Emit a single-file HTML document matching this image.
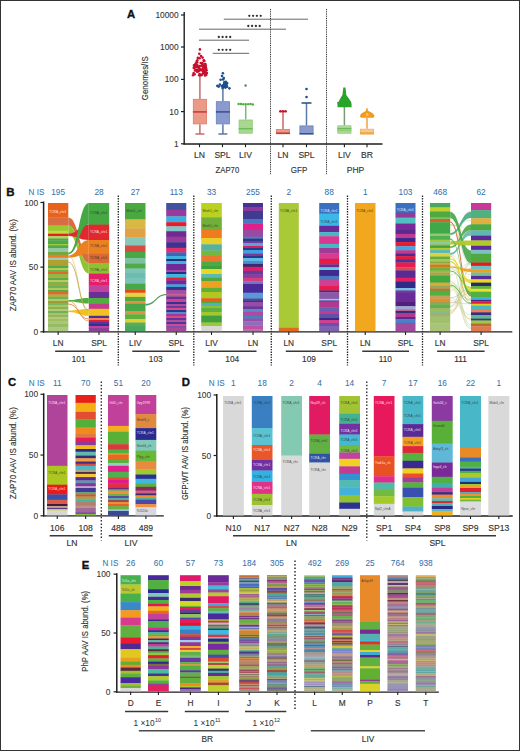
<!DOCTYPE html>
<html><head><meta charset="utf-8"><style>
html,body{margin:0;padding:0;background:#fff;}
svg{display:block;}
text{font-family:"Liberation Sans",sans-serif;}
</style></head><body>
<svg width="520" height="751" viewBox="0 0 520 751">
<rect x="0" y="0" width="520" height="751" fill="#fff"/>
<text x="131.20" y="17.80" font-size="11.3" text-anchor="middle" fill="#111" stroke="#111" stroke-width="0.35" font-weight="bold" >A</text>
<line x1="184.20" y1="12.00" x2="184.20" y2="144.50" stroke="#1e1e1e" stroke-width="1.4" />
<line x1="181.00" y1="15.00" x2="184.20" y2="15.00" stroke="#1e1e1e" stroke-width="1.2" />
<text x="178.60" y="18.00" font-size="8.5" text-anchor="end" fill="#333" stroke="#333" stroke-width="0.1" font-weight="normal" textLength="23.1" lengthAdjust="spacingAndGlyphs" >10000</text>
<line x1="181.00" y1="47.00" x2="184.20" y2="47.00" stroke="#1e1e1e" stroke-width="1.2" />
<text x="178.60" y="50.00" font-size="8.5" text-anchor="end" fill="#333" stroke="#333" stroke-width="0.1" font-weight="normal" textLength="18.48" lengthAdjust="spacingAndGlyphs" >1000</text>
<line x1="181.00" y1="79.40" x2="184.20" y2="79.40" stroke="#1e1e1e" stroke-width="1.2" />
<text x="178.60" y="82.40" font-size="8.5" text-anchor="end" fill="#333" stroke="#333" stroke-width="0.1" font-weight="normal" textLength="13.86" lengthAdjust="spacingAndGlyphs" >100</text>
<line x1="181.00" y1="111.60" x2="184.20" y2="111.60" stroke="#1e1e1e" stroke-width="1.2" />
<text x="178.60" y="114.60" font-size="8.5" text-anchor="end" fill="#333" stroke="#333" stroke-width="0.1" font-weight="normal" textLength="9.24" lengthAdjust="spacingAndGlyphs" >10</text>
<line x1="181.00" y1="143.80" x2="184.20" y2="143.80" stroke="#1e1e1e" stroke-width="1.2" />
<text x="178.60" y="146.80" font-size="8.5" text-anchor="end" fill="#333" stroke="#333" stroke-width="0.1" font-weight="normal" textLength="4.62" lengthAdjust="spacingAndGlyphs" >1</text>
<line x1="183.50" y1="144.00" x2="382.50" y2="144.00" stroke="#1e1e1e" stroke-width="1.5" />
<line x1="199.50" y1="144.00" x2="199.50" y2="147.20" stroke="#1e1e1e" stroke-width="1.1" />
<text x="199.50" y="158.20" font-size="8.6" text-anchor="middle" fill="#333" stroke="#333" stroke-width="0.14" font-weight="normal" >LN</text>
<line x1="222.50" y1="144.00" x2="222.50" y2="147.20" stroke="#1e1e1e" stroke-width="1.1" />
<text x="222.50" y="158.20" font-size="8.6" text-anchor="middle" fill="#333" stroke="#333" stroke-width="0.14" font-weight="normal" >SPL</text>
<line x1="245.50" y1="144.00" x2="245.50" y2="147.20" stroke="#1e1e1e" stroke-width="1.1" />
<text x="245.50" y="158.20" font-size="8.6" text-anchor="middle" fill="#333" stroke="#333" stroke-width="0.14" font-weight="normal" >LIV</text>
<line x1="283.00" y1="144.00" x2="283.00" y2="147.20" stroke="#1e1e1e" stroke-width="1.1" />
<text x="283.00" y="158.20" font-size="8.6" text-anchor="middle" fill="#333" stroke="#333" stroke-width="0.14" font-weight="normal" >LN</text>
<line x1="306.50" y1="144.00" x2="306.50" y2="147.20" stroke="#1e1e1e" stroke-width="1.1" />
<text x="306.50" y="158.20" font-size="8.6" text-anchor="middle" fill="#333" stroke="#333" stroke-width="0.14" font-weight="normal" >SPL</text>
<line x1="344.40" y1="144.00" x2="344.40" y2="147.20" stroke="#1e1e1e" stroke-width="1.1" />
<text x="344.40" y="158.20" font-size="8.6" text-anchor="middle" fill="#333" stroke="#333" stroke-width="0.14" font-weight="normal" >LIV</text>
<line x1="367.00" y1="144.00" x2="367.00" y2="147.20" stroke="#1e1e1e" stroke-width="1.1" />
<text x="367.00" y="158.20" font-size="8.6" text-anchor="middle" fill="#333" stroke="#333" stroke-width="0.14" font-weight="normal" >BR</text>
<text x="227.40" y="172.60" font-size="9.6" text-anchor="middle" fill="#333" stroke="#333" stroke-width="0.14" font-weight="normal" textLength="23.6" lengthAdjust="spacingAndGlyphs" >ZAP70</text>
<text x="299.00" y="172.60" font-size="9.6" text-anchor="middle" fill="#333" stroke="#333" stroke-width="0.14" font-weight="normal" textLength="16.5" lengthAdjust="spacingAndGlyphs" >GFP</text>
<text x="355.50" y="172.60" font-size="9.6" text-anchor="middle" fill="#333" stroke="#333" stroke-width="0.14" font-weight="normal" textLength="17.5" lengthAdjust="spacingAndGlyphs" >PHP</text>
<line x1="270.50" y1="9.00" x2="270.50" y2="174.80" stroke="#333" stroke-width="1.0" stroke-dasharray="1.0,0.8" />
<line x1="326.50" y1="9.00" x2="326.50" y2="174.80" stroke="#333" stroke-width="1.0" stroke-dasharray="1.0,0.8" />
<text x="147.60" y="78.20" font-size="9.2" text-anchor="middle" fill="#333" stroke="#333" stroke-width="0.14" font-weight="normal" textLength="44" lengthAdjust="spacingAndGlyphs" transform="rotate(-90 147.6 78.2)">Genomes/IS</text>
<line x1="223.80" y1="19.20" x2="308.00" y2="19.20" stroke="#4a4a4a" stroke-width="0.85" />
<circle cx="249.30" cy="15.80" r="1.15" fill="#333"/>
<circle cx="253.10" cy="15.80" r="1.15" fill="#333"/>
<circle cx="256.90" cy="15.80" r="1.15" fill="#333"/>
<circle cx="260.70" cy="15.80" r="1.15" fill="#333"/>
<line x1="199.00" y1="29.20" x2="286.00" y2="29.20" stroke="#4a4a4a" stroke-width="0.85" />
<circle cx="248.30" cy="26.00" r="1.15" fill="#333"/>
<circle cx="252.10" cy="26.00" r="1.15" fill="#333"/>
<circle cx="255.90" cy="26.00" r="1.15" fill="#333"/>
<circle cx="259.70" cy="26.00" r="1.15" fill="#333"/>
<line x1="199.00" y1="40.20" x2="249.00" y2="40.20" stroke="#4a4a4a" stroke-width="0.85" />
<circle cx="218.80" cy="37.00" r="1.15" fill="#333"/>
<circle cx="222.60" cy="37.00" r="1.15" fill="#333"/>
<circle cx="226.40" cy="37.00" r="1.15" fill="#333"/>
<circle cx="230.20" cy="37.00" r="1.15" fill="#333"/>
<line x1="212.70" y1="53.30" x2="249.20" y2="53.30" stroke="#4a4a4a" stroke-width="0.85" />
<circle cx="218.80" cy="49.80" r="1.15" fill="#333"/>
<circle cx="222.60" cy="49.80" r="1.15" fill="#333"/>
<circle cx="226.40" cy="49.80" r="1.15" fill="#333"/>
<circle cx="230.20" cy="49.80" r="1.15" fill="#333"/>
<line x1="199.90" y1="75.00" x2="199.90" y2="98.90" stroke="#c86a6a" stroke-width="1.5" />
<line x1="199.90" y1="124.30" x2="199.90" y2="134.00" stroke="#c86a6a" stroke-width="1.5" />
<line x1="195.40" y1="134.00" x2="204.40" y2="134.00" stroke="#c86a6a" stroke-width="1.5" />
<rect x="193.30" y="99.30" width="13.20" height="24.60" fill="#eb9a88" stroke="#df7a6a" stroke-width="0.8"/>
<line x1="192.90" y1="111.90" x2="206.90" y2="111.90" stroke="#c23a3a" stroke-width="1.5" />
<circle cx="199.9" cy="49.4" r="1.3" fill="#c8102e"/>
<circle cx="199.3" cy="53.7" r="1.3" fill="#c8102e"/>
<circle cx="201" cy="56" r="1.3" fill="#c8102e"/>
<circle cx="202.63" cy="63.60" r="1.3" fill="#c8102e"/>
<circle cx="205.26" cy="64.74" r="1.3" fill="#c8102e"/>
<circle cx="204.91" cy="64.38" r="1.3" fill="#c8102e"/>
<circle cx="199.64" cy="58.21" r="1.3" fill="#c8102e"/>
<circle cx="201.80" cy="65.66" r="1.3" fill="#c8102e"/>
<circle cx="195.04" cy="65.40" r="1.3" fill="#c8102e"/>
<circle cx="197.23" cy="62.50" r="1.3" fill="#c8102e"/>
<circle cx="200.71" cy="63.05" r="1.3" fill="#c8102e"/>
<circle cx="197.84" cy="57.91" r="1.3" fill="#c8102e"/>
<circle cx="203.84" cy="60.98" r="1.3" fill="#c8102e"/>
<circle cx="195.82" cy="64.55" r="1.3" fill="#c8102e"/>
<circle cx="195.52" cy="64.75" r="1.3" fill="#c8102e"/>
<circle cx="195.69" cy="63.57" r="1.3" fill="#c8102e"/>
<circle cx="202.53" cy="57.60" r="1.3" fill="#c8102e"/>
<circle cx="197.34" cy="60.35" r="1.3" fill="#c8102e"/>
<circle cx="204.71" cy="65.90" r="1.3" fill="#c8102e"/>
<circle cx="204.29" cy="61.07" r="1.3" fill="#c8102e"/>
<circle cx="201.84" cy="63.02" r="1.3" fill="#c8102e"/>
<circle cx="203.86" cy="60.30" r="1.3" fill="#c8102e"/>
<circle cx="205.33" cy="64.06" r="1.3" fill="#c8102e"/>
<circle cx="197.38" cy="65.36" r="1.3" fill="#c8102e"/>
<circle cx="196.58" cy="61.67" r="1.3" fill="#c8102e"/>
<circle cx="194.09" cy="67.70" r="1.3" fill="#c8102e"/>
<circle cx="201.30" cy="69.49" r="1.3" fill="#c8102e"/>
<circle cx="202.22" cy="65.19" r="1.3" fill="#c8102e"/>
<circle cx="197.30" cy="69.87" r="1.3" fill="#c8102e"/>
<circle cx="199.63" cy="74.04" r="1.3" fill="#c8102e"/>
<circle cx="199.64" cy="69.64" r="1.3" fill="#c8102e"/>
<circle cx="193.66" cy="73.14" r="1.3" fill="#c8102e"/>
<circle cx="193.04" cy="75.22" r="1.3" fill="#c8102e"/>
<circle cx="204.78" cy="73.50" r="1.3" fill="#c8102e"/>
<circle cx="203.66" cy="65.63" r="1.3" fill="#c8102e"/>
<circle cx="200.98" cy="70.15" r="1.3" fill="#c8102e"/>
<circle cx="193.98" cy="65.39" r="1.3" fill="#c8102e"/>
<circle cx="206.01" cy="68.14" r="1.3" fill="#c8102e"/>
<circle cx="203.34" cy="68.33" r="1.3" fill="#c8102e"/>
<circle cx="206.23" cy="74.88" r="1.3" fill="#c8102e"/>
<circle cx="197.92" cy="69.93" r="1.3" fill="#c8102e"/>
<circle cx="203.73" cy="71.62" r="1.3" fill="#c8102e"/>
<circle cx="203.20" cy="67.19" r="1.3" fill="#c8102e"/>
<circle cx="205.01" cy="73.87" r="1.3" fill="#c8102e"/>
<circle cx="205.76" cy="66.03" r="1.3" fill="#c8102e"/>
<circle cx="197.79" cy="66.95" r="1.3" fill="#c8102e"/>
<circle cx="205.75" cy="72.37" r="1.3" fill="#c8102e"/>
<circle cx="205.69" cy="69.89" r="1.3" fill="#c8102e"/>
<circle cx="197.29" cy="71.80" r="1.3" fill="#c8102e"/>
<circle cx="195.51" cy="69.65" r="1.3" fill="#c8102e"/>
<circle cx="195.25" cy="66.75" r="1.3" fill="#c8102e"/>
<circle cx="206.89" cy="73.01" r="1.3" fill="#c8102e"/>
<circle cx="193.85" cy="67.90" r="1.3" fill="#c8102e"/>
<circle cx="200.38" cy="75.30" r="1.3" fill="#c8102e"/>
<circle cx="196.29" cy="70.53" r="1.3" fill="#c8102e"/>
<circle cx="204.46" cy="72.22" r="1.3" fill="#c8102e"/>
<circle cx="198.82" cy="71.00" r="1.3" fill="#c8102e"/>
<circle cx="205.39" cy="66.38" r="1.3" fill="#c8102e"/>
<circle cx="199.82" cy="65.95" r="1.3" fill="#c8102e"/>
<circle cx="194.64" cy="74.19" r="1.3" fill="#c8102e"/>
<circle cx="206.25" cy="73.36" r="1.3" fill="#c8102e"/>
<circle cx="203.94" cy="72.53" r="1.3" fill="#c8102e"/>
<circle cx="199.03" cy="67.17" r="1.3" fill="#c8102e"/>
<circle cx="204.51" cy="67.75" r="1.3" fill="#c8102e"/>
<circle cx="199.26" cy="69.42" r="1.3" fill="#c8102e"/>
<circle cx="204.97" cy="75.39" r="1.3" fill="#c8102e"/>
<circle cx="199.23" cy="75.22" r="1.3" fill="#c8102e"/>
<circle cx="203.08" cy="71.30" r="1.3" fill="#c8102e"/>
<circle cx="197.01" cy="71.21" r="1.3" fill="#c8102e"/>
<circle cx="195.04" cy="70.51" r="1.3" fill="#c8102e"/>
<circle cx="206.59" cy="70.25" r="1.3" fill="#c8102e"/>
<circle cx="201.72" cy="75.11" r="1.3" fill="#c8102e"/>
<circle cx="197.66" cy="71.40" r="1.3" fill="#c8102e"/>
<circle cx="196.88" cy="66.91" r="1.3" fill="#c8102e"/>
<circle cx="205.11" cy="73.76" r="1.3" fill="#c8102e"/>
<circle cx="203.81" cy="70.10" r="1.3" fill="#c8102e"/>
<circle cx="202.66" cy="73.70" r="1.3" fill="#c8102e"/>
<circle cx="203.55" cy="72.81" r="1.3" fill="#c8102e"/>
<circle cx="202.70" cy="70.12" r="1.3" fill="#c8102e"/>
<circle cx="199.71" cy="69.28" r="1.3" fill="#c8102e"/>
<line x1="222.90" y1="88.00" x2="222.90" y2="101.30" stroke="#5a78a8" stroke-width="1.5" />
<line x1="222.90" y1="124.30" x2="222.90" y2="134.00" stroke="#5a78a8" stroke-width="1.5" />
<line x1="218.40" y1="134.00" x2="227.40" y2="134.00" stroke="#5a78a8" stroke-width="1.5" />
<rect x="216.30" y="101.70" width="13.20" height="22.20" fill="#8a9ace" stroke="#6a80bc" stroke-width="0.8"/>
<line x1="215.90" y1="111.90" x2="229.90" y2="111.90" stroke="#34508c" stroke-width="1.5" />
<circle cx="222.9" cy="73.2" r="1.3" fill="#1d4f8c"/>
<circle cx="222" cy="76" r="1.3" fill="#1d4f8c"/>
<circle cx="223.8" cy="78" r="1.3" fill="#1d4f8c"/>
<circle cx="225.38" cy="86.91" r="1.3" fill="#1d4f8c"/>
<circle cx="227.16" cy="83.03" r="1.3" fill="#1d4f8c"/>
<circle cx="223.88" cy="86.02" r="1.3" fill="#1d4f8c"/>
<circle cx="223.20" cy="79.42" r="1.3" fill="#1d4f8c"/>
<circle cx="224.48" cy="82.61" r="1.3" fill="#1d4f8c"/>
<circle cx="226.35" cy="84.54" r="1.3" fill="#1d4f8c"/>
<circle cx="226.53" cy="86.01" r="1.3" fill="#1d4f8c"/>
<circle cx="224.34" cy="83.54" r="1.3" fill="#1d4f8c"/>
<circle cx="227.10" cy="86.68" r="1.3" fill="#1d4f8c"/>
<circle cx="226.34" cy="83.56" r="1.3" fill="#1d4f8c"/>
<circle cx="225.47" cy="87.62" r="1.3" fill="#1d4f8c"/>
<circle cx="229.41" cy="88.34" r="1.3" fill="#1d4f8c"/>
<circle cx="223.23" cy="85.00" r="1.3" fill="#1d4f8c"/>
<circle cx="225.72" cy="81.70" r="1.3" fill="#1d4f8c"/>
<circle cx="222.58" cy="88.08" r="1.3" fill="#1d4f8c"/>
<circle cx="225.64" cy="86.34" r="1.3" fill="#1d4f8c"/>
<circle cx="218.72" cy="86.62" r="1.3" fill="#1d4f8c"/>
<circle cx="223.96" cy="86.99" r="1.3" fill="#1d4f8c"/>
<circle cx="221.92" cy="86.14" r="1.3" fill="#1d4f8c"/>
<circle cx="226.21" cy="85.83" r="1.3" fill="#1d4f8c"/>
<circle cx="225.57" cy="85.93" r="1.3" fill="#1d4f8c"/>
<circle cx="220.63" cy="79.77" r="1.3" fill="#1d4f8c"/>
<circle cx="224.51" cy="84.36" r="1.3" fill="#1d4f8c"/>
<circle cx="224.56" cy="82.28" r="1.3" fill="#1d4f8c"/>
<circle cx="217.36" cy="85.88" r="1.3" fill="#1d4f8c"/>
<circle cx="219.90" cy="84.61" r="1.3" fill="#1d4f8c"/>
<line x1="245.70" y1="104.60" x2="245.70" y2="119.60" stroke="#7ab86a" stroke-width="1.5" />
<rect x="239.10" y="120.00" width="13.20" height="13.20" fill="#a8d890" stroke="#90c878" stroke-width="0.8"/>
<line x1="238.70" y1="128.70" x2="252.70" y2="128.70" stroke="#6cbc5c" stroke-width="1.5" />
<circle cx="238.60" cy="103.96" r="1.2" fill="#4cae3a"/>
<circle cx="241.00" cy="104.06" r="1.2" fill="#4cae3a"/>
<circle cx="243.40" cy="104.28" r="1.2" fill="#4cae3a"/>
<circle cx="245.80" cy="104.12" r="1.2" fill="#4cae3a"/>
<circle cx="248.20" cy="104.13" r="1.2" fill="#4cae3a"/>
<circle cx="250.60" cy="103.94" r="1.2" fill="#4cae3a"/>
<circle cx="252.80" cy="104.46" r="1.2" fill="#4cae3a"/>
<circle cx="245.6" cy="85.5" r="1.2" fill="#4a8a5a"/>
<line x1="283.00" y1="111.50" x2="283.00" y2="129.00" stroke="#c86a6a" stroke-width="1.5" />
<rect x="276.40" y="129.40" width="13.20" height="4.40" fill="#eb9a88" stroke="#df7a6a" stroke-width="0.8"/>
<line x1="276.00" y1="133.20" x2="290.00" y2="133.20" stroke="#c23a3a" stroke-width="1.5" />
<line x1="279.00" y1="111.50" x2="287.00" y2="111.50" stroke="#c8343b" stroke-width="1.5" />
<circle cx="280.5" cy="111.2" r="1.2" fill="#c8102e"/>
<circle cx="283" cy="111.2" r="1.2" fill="#c8102e"/>
<circle cx="285.5" cy="111.2" r="1.2" fill="#c8102e"/>
<line x1="306.50" y1="103.00" x2="306.50" y2="125.50" stroke="#5a78a8" stroke-width="1.5" />
<rect x="299.90" y="125.90" width="13.20" height="7.90" fill="#8a9ace" stroke="#6a80bc" stroke-width="0.8"/>
<line x1="299.50" y1="133.80" x2="313.50" y2="133.80" stroke="#34508c" stroke-width="1.5" />
<line x1="301.50" y1="103.00" x2="311.50" y2="103.00" stroke="#1f4f8a" stroke-width="1.5" />
<circle cx="306.5" cy="97" r="1.3" fill="#1d4f8c"/>
<circle cx="306.5" cy="89" r="1.3" fill="#1d4f8c"/>
<line x1="344.40" y1="106.70" x2="344.40" y2="125.40" stroke="#7a9a7a" stroke-width="1.5" />
<rect x="337.80" y="125.80" width="13.20" height="7.50" fill="#b0dc98" stroke="#98cc80" stroke-width="0.8"/>
<line x1="337.40" y1="128.60" x2="351.40" y2="128.60" stroke="#6cbc5c" stroke-width="1.5" />
<line x1="337.40" y1="130.80" x2="351.40" y2="130.80" stroke="#8ac870" stroke-width="1.0" />
<path d="M343.3,87.6 L345.5,87.6 L345.9,91 L346.3,95 L348.2,97.5 L350,100.2 L351.2,102 L351.6,104.5 L351.6,107.3 L337.6,107.3 L337.4,103.8 L337,102.3 L338.6,101.8 L340.5,98 L342.4,95 L342.9,91 Z" fill="#2ba32b" stroke="none" stroke-width="1" />
<line x1="367.00" y1="118.00" x2="367.00" y2="128.80" stroke="#f0a040" stroke-width="1.5" />
<rect x="360.40" y="129.20" width="13.20" height="5.00" fill="#f7c98e" stroke="#f2b060" stroke-width="0.8"/>
<line x1="360.00" y1="133.00" x2="374.00" y2="133.00" stroke="#f0a040" stroke-width="1.5" />
<path d="M366.3,108.2 L367.6,108.2 L368,110.8 L370.5,112 L373,113.5 L374.6,116 L373.5,117.8 L361,117.8 L359.8,116 L361.3,113.5 L364,112 L366,110.8 Z" fill="#f29a1c" stroke="none" stroke-width="1" />
<circle cx="367.2" cy="114.6" r="1.5" fill="#f8c070"/>
<text x="10.50" y="195.80" font-size="11.5" text-anchor="middle" fill="#111" stroke="#111" stroke-width="0.35" font-weight="bold" >B</text>
<text x="28.60" y="195.00" font-size="8.3" text-anchor="start" fill="#3172ac" stroke="#3172ac" stroke-width="0.04" font-weight="normal" textLength="15.8" lengthAdjust="spacingAndGlyphs" >N IS</text>
<line x1="43.60" y1="201.50" x2="43.60" y2="332.60" stroke="#1e1e1e" stroke-width="1.5" />
<line x1="40.40" y1="331.80" x2="43.60" y2="331.80" stroke="#1e1e1e" stroke-width="1.2" />
<text x="38.20" y="334.80" font-size="8.4" text-anchor="end" fill="#333" stroke="#333" stroke-width="0.08" font-weight="normal" >0</text>
<line x1="40.40" y1="267.15" x2="43.60" y2="267.15" stroke="#1e1e1e" stroke-width="1.2" />
<text x="38.20" y="270.15" font-size="8.4" text-anchor="end" fill="#333" stroke="#333" stroke-width="0.08" font-weight="normal" >50</text>
<line x1="40.40" y1="202.50" x2="43.60" y2="202.50" stroke="#1e1e1e" stroke-width="1.2" />
<text x="38.20" y="205.50" font-size="8.4" text-anchor="end" fill="#333" stroke="#333" stroke-width="0.08" font-weight="normal" >100</text>
<text x="15.60" y="265.20" font-size="8.6" text-anchor="middle" fill="#333" stroke="#333" stroke-width="0.14" font-weight="normal" textLength="92" lengthAdjust="spacingAndGlyphs" transform="rotate(-90 15.6 265.2)">ZAP70 AAV IS abund. (%)</text>
<line x1="43.00" y1="331.90" x2="512.30" y2="331.90" stroke="#1e1e1e" stroke-width="1.3" />
<line x1="58.15" y1="331.80" x2="58.15" y2="335.00" stroke="#1e1e1e" stroke-width="1.1" />
<text x="58.15" y="346.00" font-size="8.3" text-anchor="middle" fill="#333" stroke="#333" stroke-width="0.14" font-weight="normal" >LN</text>
<text x="58.15" y="195.00" font-size="8.3" text-anchor="middle" fill="#3172ac" stroke="#3172ac" stroke-width="0.04" font-weight="normal" >195</text>
<line x1="99.00" y1="331.80" x2="99.00" y2="335.00" stroke="#1e1e1e" stroke-width="1.1" />
<text x="99.00" y="346.00" font-size="8.3" text-anchor="middle" fill="#333" stroke="#333" stroke-width="0.14" font-weight="normal" >SPL</text>
<text x="99.00" y="195.00" font-size="8.3" text-anchor="middle" fill="#3172ac" stroke="#3172ac" stroke-width="0.04" font-weight="normal" >28</text>
<line x1="135.25" y1="331.80" x2="135.25" y2="335.00" stroke="#1e1e1e" stroke-width="1.1" />
<text x="135.25" y="346.00" font-size="8.3" text-anchor="middle" fill="#333" stroke="#333" stroke-width="0.14" font-weight="normal" >LIV</text>
<text x="135.25" y="195.00" font-size="8.3" text-anchor="middle" fill="#3172ac" stroke="#3172ac" stroke-width="0.04" font-weight="normal" >27</text>
<line x1="176.25" y1="331.80" x2="176.25" y2="335.00" stroke="#1e1e1e" stroke-width="1.1" />
<text x="176.25" y="346.00" font-size="8.3" text-anchor="middle" fill="#333" stroke="#333" stroke-width="0.14" font-weight="normal" >SPL</text>
<text x="176.25" y="195.00" font-size="8.3" text-anchor="middle" fill="#3172ac" stroke="#3172ac" stroke-width="0.04" font-weight="normal" >113</text>
<line x1="211.50" y1="331.80" x2="211.50" y2="335.00" stroke="#1e1e1e" stroke-width="1.1" />
<text x="211.50" y="346.00" font-size="8.3" text-anchor="middle" fill="#333" stroke="#333" stroke-width="0.14" font-weight="normal" >LIV</text>
<text x="211.50" y="195.00" font-size="8.3" text-anchor="middle" fill="#3172ac" stroke="#3172ac" stroke-width="0.04" font-weight="normal" >33</text>
<line x1="253.00" y1="331.80" x2="253.00" y2="335.00" stroke="#1e1e1e" stroke-width="1.1" />
<text x="253.00" y="346.00" font-size="8.3" text-anchor="middle" fill="#333" stroke="#333" stroke-width="0.14" font-weight="normal" >LN</text>
<text x="253.00" y="195.00" font-size="8.3" text-anchor="middle" fill="#3172ac" stroke="#3172ac" stroke-width="0.04" font-weight="normal" >255</text>
<line x1="288.80" y1="331.80" x2="288.80" y2="335.00" stroke="#1e1e1e" stroke-width="1.1" />
<text x="288.80" y="346.00" font-size="8.3" text-anchor="middle" fill="#333" stroke="#333" stroke-width="0.14" font-weight="normal" >LN</text>
<text x="288.80" y="195.00" font-size="8.3" text-anchor="middle" fill="#3172ac" stroke="#3172ac" stroke-width="0.04" font-weight="normal" >2</text>
<line x1="329.20" y1="331.80" x2="329.20" y2="335.00" stroke="#1e1e1e" stroke-width="1.1" />
<text x="329.20" y="346.00" font-size="8.3" text-anchor="middle" fill="#333" stroke="#333" stroke-width="0.14" font-weight="normal" >SPL</text>
<text x="329.20" y="195.00" font-size="8.3" text-anchor="middle" fill="#3172ac" stroke="#3172ac" stroke-width="0.04" font-weight="normal" >88</text>
<line x1="365.25" y1="331.80" x2="365.25" y2="335.00" stroke="#1e1e1e" stroke-width="1.1" />
<text x="365.25" y="346.00" font-size="8.3" text-anchor="middle" fill="#333" stroke="#333" stroke-width="0.14" font-weight="normal" >LN</text>
<text x="365.25" y="195.00" font-size="8.3" text-anchor="middle" fill="#3172ac" stroke="#3172ac" stroke-width="0.04" font-weight="normal" >1</text>
<line x1="405.50" y1="331.80" x2="405.50" y2="335.00" stroke="#1e1e1e" stroke-width="1.1" />
<text x="405.50" y="346.00" font-size="8.3" text-anchor="middle" fill="#333" stroke="#333" stroke-width="0.14" font-weight="normal" >SPL</text>
<text x="405.50" y="195.00" font-size="8.3" text-anchor="middle" fill="#3172ac" stroke="#3172ac" stroke-width="0.04" font-weight="normal" >103</text>
<line x1="440.10" y1="331.80" x2="440.10" y2="335.00" stroke="#1e1e1e" stroke-width="1.1" />
<text x="440.10" y="346.00" font-size="8.3" text-anchor="middle" fill="#333" stroke="#333" stroke-width="0.14" font-weight="normal" >LN</text>
<text x="440.10" y="195.00" font-size="8.3" text-anchor="middle" fill="#3172ac" stroke="#3172ac" stroke-width="0.04" font-weight="normal" >468</text>
<line x1="481.10" y1="331.80" x2="481.10" y2="335.00" stroke="#1e1e1e" stroke-width="1.1" />
<text x="481.10" y="346.00" font-size="8.3" text-anchor="middle" fill="#333" stroke="#333" stroke-width="0.14" font-weight="normal" >SPL</text>
<text x="481.10" y="195.00" font-size="8.3" text-anchor="middle" fill="#3172ac" stroke="#3172ac" stroke-width="0.04" font-weight="normal" >62</text>
<line x1="118.30" y1="195.50" x2="118.30" y2="365.50" stroke="#222" stroke-width="1.3" stroke-dasharray="1.4,1.2" />
<line x1="193.80" y1="195.50" x2="193.80" y2="365.50" stroke="#222" stroke-width="1.3" stroke-dasharray="1.4,1.2" />
<line x1="271.30" y1="195.50" x2="271.30" y2="365.50" stroke="#222" stroke-width="1.3" stroke-dasharray="1.4,1.2" />
<line x1="347.50" y1="195.50" x2="347.50" y2="365.50" stroke="#222" stroke-width="1.3" stroke-dasharray="1.4,1.2" />
<line x1="422.50" y1="195.50" x2="422.50" y2="365.50" stroke="#222" stroke-width="1.3" stroke-dasharray="1.4,1.2" />
<line x1="55.15" y1="351.30" x2="102.50" y2="351.30" stroke="#383838" stroke-width="1.4" />
<text x="78.58" y="361.60" font-size="8.3" text-anchor="middle" fill="#333" stroke="#333" stroke-width="0.14" font-weight="normal" >101</text>
<line x1="132.25" y1="351.30" x2="179.75" y2="351.30" stroke="#383838" stroke-width="1.4" />
<text x="155.75" y="361.60" font-size="8.3" text-anchor="middle" fill="#333" stroke="#333" stroke-width="0.14" font-weight="normal" >103</text>
<line x1="208.50" y1="351.30" x2="256.50" y2="351.30" stroke="#383838" stroke-width="1.4" />
<text x="232.25" y="361.60" font-size="8.3" text-anchor="middle" fill="#333" stroke="#333" stroke-width="0.14" font-weight="normal" >104</text>
<line x1="285.80" y1="351.30" x2="332.70" y2="351.30" stroke="#383838" stroke-width="1.4" />
<text x="309.00" y="361.60" font-size="8.3" text-anchor="middle" fill="#333" stroke="#333" stroke-width="0.14" font-weight="normal" >109</text>
<line x1="362.25" y1="351.30" x2="409.00" y2="351.30" stroke="#383838" stroke-width="1.4" />
<text x="385.38" y="361.60" font-size="8.3" text-anchor="middle" fill="#333" stroke="#333" stroke-width="0.14" font-weight="normal" >110</text>
<line x1="437.10" y1="351.30" x2="484.60" y2="351.30" stroke="#383838" stroke-width="1.4" />
<text x="460.60" y="361.60" font-size="8.3" text-anchor="middle" fill="#333" stroke="#333" stroke-width="0.14" font-weight="normal" >111</text>
<rect x="48.00" y="203.00" width="20.30" height="14.65" fill="#e8621c" />
<rect x="48.00" y="217.30" width="20.30" height="8.55" fill="#d86c42" />
<rect x="48.00" y="225.50" width="20.30" height="5.65" fill="#9cc832" />
<rect x="48.00" y="230.80" width="20.30" height="3.25" fill="#c8d844" />
<rect x="48.00" y="233.70" width="20.30" height="2.65" fill="#e02222" />
<rect x="48.00" y="236.00" width="20.30" height="2.85" fill="#b4d062" />
<rect x="48.00" y="238.50" width="20.30" height="2.25" fill="#52a842" />
<rect x="48.00" y="240.40" width="20.30" height="3.95" fill="#4aa84a" />
<rect x="48.00" y="244.00" width="20.30" height="1.55" fill="#a2c842" />
<rect x="48.00" y="245.20" width="20.30" height="3.15" fill="#52a84a" />
<rect x="48.00" y="248.00" width="20.30" height="4.35" fill="#92c8a2" />
<rect x="48.00" y="252.00" width="20.30" height="3.15" fill="#72a842" />
<rect x="48.00" y="254.80" width="20.30" height="3.25" fill="#e88022" />
<rect x="48.00" y="257.70" width="20.30" height="2.65" fill="#a2c8c0" />
<rect x="48.00" y="260.00" width="20.30" height="5.75" fill="#b0a032" />
<rect x="48.00" y="265.40" width="20.30" height="2.95" fill="#52a852" />
<rect x="48.00" y="268.00" width="20.30" height="2.35" fill="#b7cc4c" />
<rect x="48.00" y="270.00" width="20.30" height="2.35" fill="#6cb24e" />
<rect x="48.00" y="272.00" width="20.30" height="2.35" fill="#e06a2a" />
<rect x="48.00" y="274.00" width="20.30" height="2.35" fill="#8ab84a" />
<rect x="48.00" y="276.00" width="20.30" height="2.35" fill="#a7b044" />
<rect x="48.00" y="278.00" width="20.30" height="2.35" fill="#5aab4c" />
<rect x="48.00" y="280.00" width="20.30" height="2.35" fill="#b9c95a" />
<rect x="48.00" y="282.00" width="20.30" height="2.35" fill="#78b452" />
<rect x="48.00" y="284.00" width="20.30" height="2.35" fill="#9fa73a" />
<rect x="48.00" y="286.00" width="20.30" height="2.35" fill="#6cb25a" />
<rect x="48.00" y="288.00" width="20.30" height="2.35" fill="#b0c85e" />
<rect x="48.00" y="290.00" width="20.30" height="2.35" fill="#5aa848" />
<rect x="48.00" y="292.00" width="20.30" height="2.85" fill="#e06a2a" />
<rect x="48.00" y="294.50" width="20.30" height="2.85" fill="#a5b24a" />
<rect x="48.00" y="297.00" width="20.30" height="2.35" fill="#6eb456" />
<rect x="48.00" y="299.00" width="20.30" height="2.35" fill="#b4c866" />
<rect x="48.00" y="301.00" width="20.30" height="2.35" fill="#a09a3a" />
<rect x="48.00" y="303.00" width="20.30" height="2.35" fill="#7ab85a" />
<rect x="48.00" y="305.00" width="20.30" height="2.35" fill="#a8c46a" />
<rect x="48.00" y="307.00" width="20.30" height="2.35" fill="#8ab44a" />
<rect x="48.00" y="309.00" width="20.30" height="2.35" fill="#b6c878" />
<rect x="48.00" y="311.00" width="20.30" height="2.35" fill="#6eb25a" />
<rect x="48.00" y="313.00" width="20.30" height="2.35" fill="#a8c070" />
<rect x="48.00" y="315.00" width="20.30" height="2.35" fill="#90b858" />
<rect x="48.00" y="317.00" width="20.30" height="2.35" fill="#b4c87a" />
<rect x="48.00" y="319.00" width="20.30" height="2.35" fill="#a0c060" />
<rect x="48.00" y="321.00" width="20.30" height="3.35" fill="#a9c77c" />
<rect x="48.00" y="324.00" width="20.30" height="3.35" fill="#98bc66" />
<rect x="48.00" y="327.00" width="20.30" height="4.15" fill="#aac87e" />
<rect x="88.80" y="203.00" width="20.40" height="21.95" fill="#45a843" />
<rect x="88.80" y="224.60" width="20.40" height="15.75" fill="#e1282f" />
<rect x="88.80" y="240.00" width="20.40" height="14.15" fill="#ec8120" />
<rect x="88.80" y="253.80" width="20.40" height="9.55" fill="#d96a33" />
<rect x="88.80" y="263.00" width="20.40" height="10.85" fill="#8fc130" />
<rect x="88.80" y="273.50" width="20.40" height="11.85" fill="#e21f68" />
<rect x="88.80" y="285.00" width="20.40" height="7.35" fill="#c0439e" />
<rect x="88.80" y="292.00" width="20.40" height="6.35" fill="#6a3098" />
<rect x="88.80" y="298.00" width="20.40" height="5.85" fill="#4fb040" />
<rect x="88.80" y="303.50" width="20.40" height="5.65" fill="#c63a8e" />
<rect x="88.80" y="308.80" width="20.40" height="7.35" fill="#f0c21f" />
<rect x="88.80" y="315.80" width="20.40" height="2.55" fill="#4e2f8e" />
<rect x="88.80" y="318.00" width="20.40" height="2.35" fill="#ef8060" />
<rect x="88.80" y="320.00" width="20.40" height="2.35" fill="#e02030" />
<rect x="88.80" y="322.00" width="20.40" height="2.35" fill="#6030a0" />
<rect x="88.80" y="324.00" width="20.40" height="2.35" fill="#2e3288" />
<rect x="88.80" y="326.00" width="20.40" height="2.35" fill="#c040a0" />
<rect x="88.80" y="328.00" width="20.40" height="3.15" fill="#8e3f9a" />
<path d="M68.3,217.5 C78.55,217.5 78.55,253.8 88.8,253.8 L88.8,263 C78.55,263 78.55,225.5 68.3,225.5 Z" fill="#d96c40" stroke="none" stroke-width="1" fill-opacity="1.0"/>
<path d="M68.3,225.5 C78.55,225.5 78.55,263 88.8,263 L88.8,273.5 C78.55,273.5 78.55,233.7 68.3,233.7 Z" fill="#92c430" stroke="none" stroke-width="1" fill-opacity="1.0"/>
<path d="M68.3,233.7 C78.55,233.7 78.55,224.6 88.8,224.6 L88.8,240 C78.55,240 78.55,236 68.3,236 Z" fill="#e1282f" stroke="none" stroke-width="1" fill-opacity="1.0"/>
<path d="M68.3,252.8 C78.55,252.8 78.55,203 88.8,203 L88.8,224.6 C78.55,224.6 78.55,254.5 68.3,254.5 Z" fill="#45a843" stroke="none" stroke-width="1" fill-opacity="1.0"/>
<path d="M68.3,255.5 C78.55,255.5 78.55,240 88.8,240 L88.8,253.8 C78.55,253.8 78.55,257.7 68.3,257.7 Z" fill="#ec8120" stroke="none" stroke-width="1" fill-opacity="1.0"/>
<path d="M68.3,300 C78.55,300 78.55,298 88.8,298 L88.8,303.5 C78.55,303.5 78.55,301.5 68.3,301.5 Z" fill="#4fb040" stroke="none" stroke-width="1" fill-opacity="1.0"/>
<path d="M68.3,310.5 C78.55,310.5 78.55,309 88.8,309 L88.8,315.8 C78.55,315.8 78.55,312 68.3,312 Z" fill="#f0c21f" stroke="none" stroke-width="1" fill-opacity="1.0"/>
<path d="M68.3,304 C78.55,304 78.55,319 88.8,319" fill="none" stroke="#e58040" stroke-width="1.0" stroke-opacity="0.9"/>
<path d="M68.3,301 C78.55,301 78.55,321 88.8,321" fill="none" stroke="#e89040" stroke-width="0.8" stroke-opacity="0.9"/>
<path d="M68.3,256 C78.55,256 78.55,312 88.8,312" fill="none" stroke="#e8c050" stroke-width="0.7" stroke-opacity="0.9"/>
<path d="M68.3,262 C78.55,262 78.55,310 88.8,310" fill="none" stroke="#b0a040" stroke-width="0.8" stroke-opacity="0.9"/>
<rect x="125.00" y="203.00" width="20.50" height="16.75" fill="#4aa840" />
<rect x="125.00" y="219.40" width="20.50" height="9.35" fill="#d7b944" />
<rect x="125.00" y="228.40" width="20.50" height="9.35" fill="#e0a244" />
<rect x="125.00" y="237.40" width="20.50" height="8.35" fill="#89c8b8" />
<rect x="125.00" y="245.40" width="20.50" height="6.95" fill="#d84b3f" />
<rect x="125.00" y="252.00" width="20.50" height="6.55" fill="#48a848" />
<rect x="125.00" y="258.20" width="20.50" height="5.55" fill="#7bc2a2" />
<rect x="125.00" y="263.40" width="20.50" height="5.45" fill="#52a948" />
<rect x="125.00" y="268.50" width="20.50" height="4.85" fill="#7cc3b8" />
<rect x="125.00" y="273.00" width="20.50" height="5.35" fill="#6cbcb0" />
<rect x="125.00" y="278.00" width="20.50" height="6.05" fill="#7bc3b6" />
<rect x="125.00" y="283.70" width="20.50" height="5.85" fill="#48a848" />
<rect x="125.00" y="289.20" width="20.50" height="3.85" fill="#e04a1f" />
<rect x="125.00" y="292.70" width="20.50" height="4.55" fill="#e8d040" />
<rect x="125.00" y="296.90" width="20.50" height="4.75" fill="#50a840" />
<rect x="125.00" y="301.30" width="20.50" height="2.85" fill="#e09040" />
<rect x="125.00" y="303.80" width="20.50" height="7.95" fill="#48a848" />
<rect x="125.00" y="311.40" width="20.50" height="3.15" fill="#e09048" />
<rect x="125.00" y="314.20" width="20.50" height="5.15" fill="#60b040" />
<rect x="125.00" y="319.00" width="20.50" height="3.85" fill="#e0d030" />
<rect x="125.00" y="322.50" width="20.50" height="3.85" fill="#5aad58" />
<rect x="125.00" y="326.00" width="20.50" height="5.15" fill="#48a860" />
<rect x="166.20" y="203.00" width="20.10" height="7.05" fill="#4051a0" />
<rect x="166.20" y="209.70" width="20.10" height="6.95" fill="#9a3a9a" />
<rect x="166.20" y="216.30" width="20.10" height="6.25" fill="#3ab0e0" />
<rect x="166.20" y="222.20" width="20.10" height="4.45" fill="#e81a30" />
<rect x="166.20" y="226.30" width="20.10" height="5.25" fill="#80c8c8" />
<rect x="166.20" y="231.20" width="20.10" height="5.85" fill="#702a90" />
<rect x="166.20" y="236.70" width="20.10" height="5.85" fill="#9a3a9a" />
<rect x="166.20" y="242.20" width="20.10" height="5.95" fill="#403090" />
<rect x="166.20" y="247.80" width="20.10" height="4.95" fill="#e0306a" />
<rect x="166.20" y="252.40" width="20.10" height="3.95" fill="#3a68b8" />
<rect x="166.20" y="256.00" width="20.10" height="3.35" fill="#40b0e0" />
<rect x="166.20" y="259.00" width="20.10" height="2.35" fill="#203070" />
<rect x="166.20" y="261.00" width="20.10" height="3.35" fill="#40b0e0" />
<rect x="166.20" y="264.00" width="20.10" height="6.85" fill="#702a98" />
<rect x="166.20" y="270.50" width="20.10" height="1.85" fill="#c040a0" />
<rect x="166.20" y="272.00" width="20.10" height="2.35" fill="#283080" />
<rect x="166.20" y="274.00" width="20.10" height="3.85" fill="#40b8d8" />
<rect x="166.20" y="277.50" width="20.10" height="3.05" fill="#e02040" />
<rect x="166.20" y="280.20" width="20.10" height="4.55" fill="#702a98" />
<rect x="166.20" y="284.40" width="20.10" height="2.95" fill="#40a0d8" />
<rect x="166.20" y="287.00" width="20.10" height="3.35" fill="#403090" />
<rect x="166.20" y="290.00" width="20.10" height="3.35" fill="#a050a0" />
<rect x="166.20" y="293.00" width="20.10" height="1.85" fill="#e04080" />
<rect x="166.20" y="294.50" width="20.10" height="2.35" fill="#b06090" />
<rect x="166.20" y="296.50" width="20.10" height="2.85" fill="#6a3098" />
<rect x="166.20" y="299.00" width="20.10" height="3.35" fill="#d04090" />
<rect x="166.20" y="302.00" width="20.10" height="2.35" fill="#3a3090" />
<rect x="166.20" y="304.00" width="20.10" height="2.35" fill="#b04a9a" />
<rect x="166.20" y="306.00" width="20.10" height="2.35" fill="#6a3aa0" />
<rect x="166.20" y="308.00" width="20.10" height="2.35" fill="#d84a90" />
<rect x="166.20" y="310.00" width="20.10" height="2.35" fill="#2a3a8a" />
<rect x="166.20" y="312.00" width="20.10" height="2.35" fill="#5a88c8" />
<rect x="166.20" y="314.00" width="20.10" height="2.35" fill="#9a3a9a" />
<rect x="166.20" y="316.00" width="20.10" height="2.35" fill="#d04a90" />
<rect x="166.20" y="318.00" width="20.10" height="2.35" fill="#6a3098" />
<rect x="166.20" y="320.00" width="20.10" height="2.35" fill="#b0509a" />
<rect x="166.20" y="322.00" width="20.10" height="2.35" fill="#4a3a98" />
<rect x="166.20" y="324.00" width="20.10" height="2.35" fill="#c84a98" />
<rect x="166.20" y="326.00" width="20.10" height="2.35" fill="#8a4aa8" />
<rect x="166.20" y="328.00" width="20.10" height="3.15" fill="#a04a9a" />
<path d="M145.5,303.8 C155.85,303.8 155.85,294 166.2,294 L166.2,295.2 C155.85,295.2 155.85,305.5 145.5,305.5 Z" fill="#48a060" stroke="none" stroke-width="1" fill-opacity="1.0"/>
<rect x="201.20" y="203.00" width="20.60" height="14.65" fill="#b9d120" />
<rect x="201.20" y="217.30" width="20.60" height="12.85" fill="#70b038" />
<rect x="201.20" y="229.80" width="20.60" height="8.55" fill="#f07a20" />
<rect x="201.20" y="238.00" width="20.60" height="6.65" fill="#e8d028" />
<rect x="201.20" y="244.30" width="20.60" height="6.55" fill="#58b0a0" />
<rect x="201.20" y="250.50" width="20.60" height="5.85" fill="#70b840" />
<rect x="201.20" y="256.00" width="20.60" height="5.95" fill="#e87830" />
<rect x="201.20" y="261.60" width="20.60" height="4.75" fill="#50a840" />
<rect x="201.20" y="266.00" width="20.60" height="3.35" fill="#40a040" />
<rect x="201.20" y="269.00" width="20.60" height="5.35" fill="#e8d820" />
<rect x="201.20" y="274.00" width="20.60" height="3.85" fill="#60b8b0" />
<rect x="201.20" y="277.50" width="20.60" height="3.85" fill="#50a840" />
<rect x="201.20" y="281.00" width="20.60" height="7.25" fill="#f0a020" />
<rect x="201.20" y="287.90" width="20.60" height="4.45" fill="#60b038" />
<rect x="201.20" y="292.00" width="20.60" height="6.55" fill="#b0c820" />
<rect x="201.20" y="298.20" width="20.60" height="3.15" fill="#e06020" />
<rect x="201.20" y="301.00" width="20.60" height="2.35" fill="#50a840" />
<rect x="201.20" y="303.00" width="20.60" height="3.15" fill="#50b0c0" />
<rect x="201.20" y="305.80" width="20.60" height="2.55" fill="#90c030" />
<rect x="201.20" y="308.00" width="20.60" height="4.35" fill="#60b040" />
<rect x="201.20" y="312.00" width="20.60" height="3.95" fill="#a0c830" />
<rect x="201.20" y="315.60" width="20.60" height="7.25" fill="#40a040" />
<rect x="201.20" y="322.50" width="20.60" height="3.85" fill="#a0c830" />
<rect x="201.20" y="326.00" width="20.60" height="5.15" fill="#d8d8d8" />
<rect x="243.00" y="203.00" width="20.00" height="4.35" fill="#4a3090" />
<rect x="243.00" y="207.00" width="20.00" height="4.35" fill="#8a3a9a" />
<rect x="243.00" y="211.00" width="20.00" height="8.75" fill="#403a90" />
<rect x="243.00" y="219.40" width="20.00" height="4.45" fill="#4a78c0" />
<rect x="243.00" y="223.50" width="20.00" height="6.65" fill="#e0208a" />
<rect x="243.00" y="229.80" width="20.00" height="7.25" fill="#9a4aa0" />
<rect x="243.00" y="236.70" width="20.00" height="2.15" fill="#4a80c8" />
<rect x="243.00" y="238.50" width="20.00" height="2.85" fill="#283a8a" />
<rect x="243.00" y="241.00" width="20.00" height="2.35" fill="#7a3a98" />
<rect x="243.00" y="243.00" width="20.00" height="3.35" fill="#60a0d8" />
<rect x="243.00" y="246.00" width="20.00" height="2.35" fill="#d02060" />
<rect x="243.00" y="248.00" width="20.00" height="2.35" fill="#283a8a" />
<rect x="243.00" y="250.00" width="20.00" height="3.85" fill="#40a0e0" />
<rect x="243.00" y="253.50" width="20.00" height="2.85" fill="#7a3a98" />
<rect x="243.00" y="256.00" width="20.00" height="2.35" fill="#283a8a" />
<rect x="243.00" y="258.00" width="20.00" height="3.35" fill="#60b8e8" />
<rect x="243.00" y="261.00" width="20.00" height="3.25" fill="#4a90d0" />
<rect x="243.00" y="263.90" width="20.00" height="3.25" fill="#3a2a70" />
<rect x="243.00" y="266.80" width="20.00" height="4.15" fill="#e81a60" />
<rect x="243.00" y="270.60" width="20.00" height="4.25" fill="#6a3a98" />
<rect x="243.00" y="274.50" width="20.00" height="3.65" fill="#8a3aa0" />
<rect x="243.00" y="277.80" width="20.00" height="3.75" fill="#d04080" />
<rect x="243.00" y="281.20" width="20.00" height="3.15" fill="#7a70c0" />
<rect x="243.00" y="284.00" width="20.00" height="9.05" fill="#4a2a98" />
<rect x="243.00" y="292.70" width="20.00" height="6.05" fill="#5a98d8" />
<rect x="243.00" y="298.40" width="20.00" height="2.35" fill="#4a4aa8" />
<rect x="243.00" y="300.40" width="20.00" height="1.75" fill="#2a3070" />
<rect x="243.00" y="301.80" width="20.00" height="4.65" fill="#9a4aa8" />
<rect x="243.00" y="306.10" width="20.00" height="3.25" fill="#6a3a98" />
<rect x="243.00" y="309.00" width="20.00" height="3.25" fill="#5a88c8" />
<rect x="243.00" y="311.90" width="20.00" height="4.15" fill="#b04aa0" />
<rect x="243.00" y="315.70" width="20.00" height="3.25" fill="#4a80c0" />
<rect x="243.00" y="318.60" width="20.00" height="3.15" fill="#a04aa0" />
<rect x="243.00" y="321.40" width="20.00" height="4.25" fill="#8a70c0" />
<rect x="243.00" y="325.30" width="20.00" height="4.15" fill="#c050a0" />
<rect x="243.00" y="329.10" width="20.00" height="2.05" fill="#b070b0" />
<rect x="278.80" y="203.00" width="20.00" height="125.15" fill="#a9c937" />
<rect x="278.80" y="327.80" width="20.00" height="3.35" fill="#e06a20" />
<rect x="319.20" y="203.00" width="20.00" height="10.95" fill="#3a70c0" />
<rect x="319.20" y="213.60" width="20.00" height="12.55" fill="#3ab8e8" />
<rect x="319.20" y="225.80" width="20.00" height="6.65" fill="#6a2a98" />
<rect x="319.20" y="232.10" width="20.00" height="4.45" fill="#48b8c0" />
<rect x="319.20" y="236.20" width="20.00" height="8.05" fill="#d83890" />
<rect x="319.20" y="243.90" width="20.00" height="4.45" fill="#48b8c0" />
<rect x="319.20" y="248.00" width="20.00" height="5.75" fill="#a03a98" />
<rect x="319.20" y="253.40" width="20.00" height="5.75" fill="#d83a90" />
<rect x="319.20" y="258.80" width="20.00" height="5.85" fill="#e81a40" />
<rect x="319.20" y="264.30" width="20.00" height="3.35" fill="#6a2a90" />
<rect x="319.20" y="267.30" width="20.00" height="3.05" fill="#60d0d8" />
<rect x="319.20" y="270.00" width="20.00" height="6.25" fill="#402a90" />
<rect x="319.20" y="275.90" width="20.00" height="4.35" fill="#4a78c0" />
<rect x="319.20" y="279.90" width="20.00" height="5.85" fill="#d04090" />
<rect x="319.20" y="285.40" width="20.00" height="5.25" fill="#e81a50" />
<rect x="319.20" y="290.30" width="20.00" height="2.15" fill="#6a2060" />
<rect x="319.20" y="292.10" width="20.00" height="7.15" fill="#8a5aa8" />
<rect x="319.20" y="298.90" width="20.00" height="1.95" fill="#a0c0e8" />
<rect x="319.20" y="300.50" width="20.00" height="1.35" fill="#3a2a88" />
<rect x="319.20" y="301.50" width="20.00" height="6.35" fill="#b03a90" />
<rect x="319.20" y="307.50" width="20.00" height="3.85" fill="#6a60b0" />
<rect x="319.20" y="311.00" width="20.00" height="3.35" fill="#c03a90" />
<rect x="319.20" y="314.00" width="20.00" height="4.35" fill="#6050a8" />
<rect x="319.20" y="318.00" width="20.00" height="2.35" fill="#3a2a88" />
<rect x="319.20" y="320.00" width="20.00" height="3.35" fill="#d04090" />
<rect x="319.20" y="323.00" width="20.00" height="3.35" fill="#6a50a8" />
<rect x="319.20" y="326.00" width="20.00" height="5.15" fill="#8060b0" />
<rect x="355.00" y="203.00" width="20.50" height="128.15" fill="#f1a81f" />
<rect x="395.50" y="203.00" width="20.00" height="10.05" fill="#3a70c0" />
<rect x="395.50" y="212.70" width="20.00" height="5.25" fill="#903a9a" />
<rect x="395.50" y="217.60" width="20.00" height="6.25" fill="#50c0c0" />
<rect x="395.50" y="223.50" width="20.00" height="6.75" fill="#7a2a98" />
<rect x="395.50" y="229.90" width="20.00" height="4.35" fill="#5a2a90" />
<rect x="395.50" y="233.90" width="20.00" height="4.45" fill="#c03a90" />
<rect x="395.50" y="238.00" width="20.00" height="4.45" fill="#3a2a90" />
<rect x="395.50" y="242.10" width="20.00" height="4.45" fill="#e81a30" />
<rect x="395.50" y="246.20" width="20.00" height="4.35" fill="#40a8e0" />
<rect x="395.50" y="250.20" width="20.00" height="3.55" fill="#c03a90" />
<rect x="395.50" y="253.40" width="20.00" height="3.05" fill="#4a2a90" />
<rect x="395.50" y="256.10" width="20.00" height="3.95" fill="#e01a40" />
<rect x="395.50" y="259.70" width="20.00" height="3.05" fill="#403a98" />
<rect x="395.50" y="262.40" width="20.00" height="5.25" fill="#e81a50" />
<rect x="395.50" y="267.30" width="20.00" height="3.45" fill="#d84a50" />
<rect x="395.50" y="270.40" width="20.00" height="7.65" fill="#5a2a90" />
<rect x="395.50" y="277.70" width="20.00" height="4.35" fill="#e02060" />
<rect x="395.50" y="281.70" width="20.00" height="6.75" fill="#302a88" />
<rect x="395.50" y="288.10" width="20.00" height="2.55" fill="#80c0e8" />
<rect x="395.50" y="290.30" width="20.00" height="2.15" fill="#5050a0" />
<rect x="395.50" y="292.10" width="20.00" height="9.45" fill="#6a2a98" />
<rect x="395.50" y="301.20" width="20.00" height="5.35" fill="#50207a" />
<rect x="395.50" y="306.20" width="20.00" height="3.45" fill="#a0a8d8" />
<rect x="395.50" y="309.30" width="20.00" height="2.05" fill="#b06a90" />
<rect x="395.50" y="311.00" width="20.00" height="2.35" fill="#3a2a80" />
<rect x="395.50" y="313.00" width="20.00" height="4.35" fill="#b03a90" />
<rect x="395.50" y="317.00" width="20.00" height="2.65" fill="#5a2a90" />
<rect x="395.50" y="319.30" width="20.00" height="3.95" fill="#4a80c8" />
<rect x="395.50" y="322.90" width="20.00" height="8.25" fill="#a04aa0" />
<rect x="430.00" y="203.00" width="20.20" height="4.75" fill="#48a860" />
<rect x="430.00" y="207.40" width="20.20" height="4.35" fill="#c0d030" />
<rect x="430.00" y="211.40" width="20.20" height="6.45" fill="#50a840" />
<rect x="430.00" y="217.50" width="20.20" height="1.85" fill="#80c060" />
<rect x="430.00" y="219.00" width="20.20" height="3.55" fill="#d86030" />
<rect x="430.00" y="222.20" width="20.20" height="11.75" fill="#40a848" />
<rect x="430.00" y="233.60" width="20.20" height="2.75" fill="#90c878" />
<rect x="430.00" y="236.00" width="20.20" height="4.05" fill="#50b050" />
<rect x="430.00" y="239.70" width="20.20" height="2.65" fill="#a0c840" />
<rect x="430.00" y="242.00" width="20.20" height="2.75" fill="#90c8a0" />
<rect x="430.00" y="244.40" width="20.20" height="1.95" fill="#80b040" />
<rect x="430.00" y="246.00" width="20.20" height="2.15" fill="#40a040" />
<rect x="430.00" y="247.80" width="20.20" height="2.55" fill="#b0c830" />
<rect x="430.00" y="250.00" width="20.20" height="3.55" fill="#60b8b0" />
<rect x="430.00" y="253.20" width="20.20" height="3.65" fill="#e0d040" />
<rect x="430.00" y="256.50" width="20.20" height="2.85" fill="#60b040" />
<rect x="430.00" y="259.00" width="20.20" height="2.85" fill="#a0c860" />
<rect x="430.00" y="261.50" width="20.20" height="2.25" fill="#90a840" />
<rect x="430.00" y="263.40" width="20.20" height="1.95" fill="#d0a040" />
<rect x="430.00" y="265.00" width="20.20" height="2.65" fill="#d07a20" />
<rect x="430.00" y="267.30" width="20.20" height="3.65" fill="#70b040" />
<rect x="430.00" y="270.60" width="20.20" height="2.25" fill="#90c040" />
<rect x="430.00" y="272.50" width="20.20" height="3.25" fill="#b0a050" />
<rect x="430.00" y="275.40" width="20.20" height="7.55" fill="#40a840" />
<rect x="430.00" y="282.60" width="20.20" height="3.25" fill="#e0a830" />
<rect x="430.00" y="285.50" width="20.20" height="3.25" fill="#90a860" />
<rect x="430.00" y="288.40" width="20.20" height="2.75" fill="#b07a30" />
<rect x="430.00" y="290.80" width="20.20" height="5.15" fill="#50b040" />
<rect x="430.00" y="295.60" width="20.20" height="3.15" fill="#c0a060" />
<rect x="430.00" y="298.40" width="20.20" height="3.75" fill="#e09030" />
<rect x="430.00" y="301.80" width="20.20" height="2.75" fill="#a0a050" />
<rect x="430.00" y="304.20" width="20.20" height="4.15" fill="#60b050" />
<rect x="430.00" y="308.00" width="20.20" height="3.25" fill="#a0b860" />
<rect x="430.00" y="310.90" width="20.20" height="3.25" fill="#80c088" />
<rect x="430.00" y="313.80" width="20.20" height="3.15" fill="#a0b070" />
<rect x="430.00" y="316.60" width="20.20" height="7.15" fill="#a0c070" />
<rect x="430.00" y="323.40" width="20.20" height="7.75" fill="#a8c478" />
<rect x="471.00" y="203.00" width="20.20" height="7.45" fill="#c83a9a" />
<rect x="471.00" y="210.10" width="20.20" height="8.45" fill="#50b080" />
<rect x="471.00" y="218.20" width="20.20" height="6.35" fill="#e0b040" />
<rect x="471.00" y="224.20" width="20.20" height="6.45" fill="#50a840" />
<rect x="471.00" y="230.30" width="20.20" height="5.75" fill="#60b8b0" />
<rect x="471.00" y="235.70" width="20.20" height="5.05" fill="#5a2a98" />
<rect x="471.00" y="240.40" width="20.20" height="5.75" fill="#b0c828" />
<rect x="471.00" y="245.80" width="20.20" height="4.35" fill="#5a2a98" />
<rect x="471.00" y="249.80" width="20.20" height="4.35" fill="#80c0c0" />
<rect x="471.00" y="253.80" width="20.20" height="9.05" fill="#50a840" />
<rect x="471.00" y="262.50" width="20.20" height="3.65" fill="#e01a20" />
<rect x="471.00" y="265.80" width="20.20" height="3.75" fill="#70c0c0" />
<rect x="471.00" y="269.20" width="20.20" height="3.65" fill="#f0a020" />
<rect x="471.00" y="272.50" width="20.20" height="3.75" fill="#70c0a0" />
<rect x="471.00" y="275.90" width="20.20" height="3.75" fill="#5a2a98" />
<rect x="471.00" y="279.30" width="20.20" height="3.65" fill="#e8d820" />
<rect x="471.00" y="282.60" width="20.20" height="3.75" fill="#2a2a70" />
<rect x="471.00" y="286.00" width="20.20" height="3.15" fill="#60b040" />
<rect x="471.00" y="288.80" width="20.20" height="3.25" fill="#e8e030" />
<rect x="471.00" y="291.70" width="20.20" height="5.65" fill="#50b040" />
<rect x="471.00" y="297.00" width="20.20" height="3.25" fill="#40b0e0" />
<rect x="471.00" y="299.90" width="20.20" height="1.75" fill="#4a2a80" />
<rect x="471.00" y="301.30" width="20.20" height="2.75" fill="#e01a40" />
<rect x="471.00" y="303.70" width="20.20" height="2.25" fill="#d8d020" />
<rect x="471.00" y="305.60" width="20.20" height="4.65" fill="#50b8c0" />
<rect x="471.00" y="309.90" width="20.20" height="2.75" fill="#f08050" />
<rect x="471.00" y="312.30" width="20.20" height="3.25" fill="#3a2a80" />
<rect x="471.00" y="315.20" width="20.20" height="3.75" fill="#60b890" />
<rect x="471.00" y="318.60" width="20.20" height="2.25" fill="#3a3a80" />
<rect x="471.00" y="320.50" width="20.20" height="3.25" fill="#a0c840" />
<rect x="471.00" y="323.40" width="20.20" height="3.15" fill="#b07030" />
<rect x="471.00" y="326.20" width="20.20" height="4.95" fill="#e07850" />
<path d="M450.2,286.1903642807855 C460.6,286.1903642807855 460.6,300.06452225347374 471,300.06452225347374" fill="none" stroke="#70b070" stroke-width="0.45" stroke-opacity="0.8"/>
<path d="M450.2,286.14658564796525 C460.6,286.14658564796525 460.6,320.1431032414896 471,320.1431032414896" fill="none" stroke="#c0d070" stroke-width="0.45" stroke-opacity="0.8"/>
<path d="M450.2,264.77282750839015 C460.6,264.77282750839015 460.6,296.80978745484276 471,296.80978745484276" fill="none" stroke="#b0d090" stroke-width="0.45" stroke-opacity="0.8"/>
<path d="M450.2,313.4381498015962 C460.6,313.4381498015962 460.6,268.40039502358684 471,268.40039502358684" fill="none" stroke="#e0a0a0" stroke-width="0.45" stroke-opacity="0.8"/>
<path d="M450.2,261.34361034075647 C460.6,261.34361034075647 460.6,298.6311585832821 471,298.6311585832821" fill="none" stroke="#9ac878" stroke-width="0.45" stroke-opacity="0.8"/>
<path d="M450.2,297.63492046725355 C460.6,297.63492046725355 460.6,288.93887839916 471,288.93887839916" fill="none" stroke="#70b070" stroke-width="0.45" stroke-opacity="0.8"/>
<path d="M450.2,302.3138026827072 C460.6,302.3138026827072 460.6,303.8582639113428 471,303.8582639113428" fill="none" stroke="#80c0a0" stroke-width="0.45" stroke-opacity="0.8"/>
<path d="M450.2,299.8502761214976 C460.6,299.8502761214976 460.6,318.5557105237985 471,318.5557105237985" fill="none" stroke="#e0c060" stroke-width="0.45" stroke-opacity="0.8"/>
<path d="M450.2,254.7640884135084 C460.6,254.7640884135084 460.6,274.9341618702592 471,274.9341618702592" fill="none" stroke="#c0d070" stroke-width="0.45" stroke-opacity="0.8"/>
<path d="M450.2,297.96944679622806 C460.6,297.96944679622806 460.6,314.9113716449406 471,314.9113716449406" fill="none" stroke="#a0c0d0" stroke-width="0.45" stroke-opacity="0.8"/>
<path d="M450.2,285.24248933253256 C460.6,285.24248933253256 460.6,319.2850447392602 471,319.2850447392602" fill="none" stroke="#e8d070" stroke-width="0.45" stroke-opacity="0.8"/>
<path d="M450.2,268.69165101068717 C460.6,268.69165101068717 460.6,282.002306803946 471,282.002306803946" fill="none" stroke="#9ac878" stroke-width="0.45" stroke-opacity="0.8"/>
<path d="M450.2,302.99596255122947 C460.6,302.99596255122947 460.6,293.0984319487699 471,293.0984319487699" fill="none" stroke="#e0a0a0" stroke-width="0.45" stroke-opacity="0.8"/>
<path d="M450.2,282.5422990308143 C460.6,282.5422990308143 460.6,299.4862060227024 471,299.4862060227024" fill="none" stroke="#e0c060" stroke-width="0.45" stroke-opacity="0.8"/>
<path d="M450.2,306.62476971983597 C460.6,306.62476971983597 460.6,283.43885075705737 471,283.43885075705737" fill="none" stroke="#c0d070" stroke-width="0.45" stroke-opacity="0.8"/>
<path d="M450.2,291.03077130856514 C460.6,291.03077130856514 460.6,264.0231300352156 471,264.0231300352156" fill="none" stroke="#b0d090" stroke-width="0.45" stroke-opacity="0.8"/>
<path d="M450.2,311.3030309128326 C460.6,311.3030309128326 460.6,289.2271867344574 471,289.2271867344574" fill="none" stroke="#e0a0a0" stroke-width="0.45" stroke-opacity="0.8"/>
<path d="M450.2,280.9210825364748 C460.6,280.9210825364748 460.6,327.1468820657473 471,327.1468820657473" fill="none" stroke="#9ac878" stroke-width="0.45" stroke-opacity="0.8"/>
<path d="M450.2,267.0801342783674 C460.6,267.0801342783674 460.6,325.038866087038 471,325.038866087038" fill="none" stroke="#9ac878" stroke-width="0.45" stroke-opacity="0.8"/>
<path d="M450.2,287.5989820810933 C460.6,287.5989820810933 460.6,328.66440799985185 471,328.66440799985185" fill="none" stroke="#d0b070" stroke-width="0.45" stroke-opacity="0.8"/>
<path d="M450.2,283.58331207814115 C460.6,283.58331207814115 460.6,300.50443871917525 471,300.50443871917525" fill="none" stroke="#c0d070" stroke-width="0.45" stroke-opacity="0.8"/>
<path d="M450.2,312.2808686941321 C460.6,312.2808686941321 460.6,280.3447399058097 471,280.3447399058097" fill="none" stroke="#e0c060" stroke-width="0.45" stroke-opacity="0.8"/>
<path d="M450.2,274.89677031790353 C460.6,274.89677031790353 460.6,263.03016675678776 471,263.03016675678776" fill="none" stroke="#d0b070" stroke-width="0.45" stroke-opacity="0.8"/>
<path d="M450.2,310.64324135950073 C460.6,310.64324135950073 460.6,270.02343420052944 471,270.02343420052944" fill="none" stroke="#c0d070" stroke-width="0.45" stroke-opacity="0.8"/>
<path d="M450.2,306.5612823373355 C460.6,306.5612823373355 460.6,262.74494093710746 471,262.74494093710746" fill="none" stroke="#70b070" stroke-width="0.45" stroke-opacity="0.8"/>
<path d="M450.2,313.7617209475179 C460.6,313.7617209475179 460.6,274.0821127174889 471,274.0821127174889" fill="none" stroke="#e8d070" stroke-width="0.45" stroke-opacity="0.8"/>
<path d="M450.2,224.41927337923082 C460.6,224.41927337923082 460.6,235.5319263893445 471,235.5319263893445" fill="none" stroke="#a0c860" stroke-width="0.5" stroke-opacity="0.7"/>
<path d="M450.2,253.47609986773398 C460.6,253.47609986773398 460.6,230.15382974313874 471,230.15382974313874" fill="none" stroke="#e0a050" stroke-width="0.5" stroke-opacity="0.7"/>
<path d="M450.2,220.82539938198528 C460.6,220.82539938198528 460.6,230.24533703478525 471,230.24533703478525" fill="none" stroke="#e8c060" stroke-width="0.5" stroke-opacity="0.7"/>
<path d="M450.2,215.02354542530887 C460.6,215.02354542530887 460.6,256.86003653895665 471,256.86003653895665" fill="none" stroke="#a0c860" stroke-width="0.5" stroke-opacity="0.7"/>
<path d="M450.2,230.20725749354946 C460.6,230.20725749354946 460.6,258.09190676493824 471,258.09190676493824" fill="none" stroke="#e8c060" stroke-width="0.5" stroke-opacity="0.7"/>
<path d="M450.2,224.36536803628303 C460.6,224.36536803628303 460.6,264.7501432244674 471,264.7501432244674" fill="none" stroke="#a0c860" stroke-width="0.5" stroke-opacity="0.7"/>
<path d="M450.2,247.09178282952303 C460.6,247.09178282952303 460.6,211.01996513103296 471,211.01996513103296" fill="none" stroke="#e8c060" stroke-width="0.5" stroke-opacity="0.7"/>
<path d="M450.2,225.66216842887613 C460.6,225.66216842887613 460.6,220.49665347169721 471,220.49665347169721" fill="none" stroke="#a0c860" stroke-width="0.5" stroke-opacity="0.7"/>
<path d="M450.2,222 C460.6,222 460.6,296 471,296" fill="none" stroke="#d86030" stroke-width="1.0" stroke-opacity="0.9"/>
<path d="M450.2,256 C460.6,256 460.6,303 471,303" fill="none" stroke="#e0b040" stroke-width="0.8" stroke-opacity="0.8"/>
<path d="M450.2,285 C460.6,285 460.6,303.5 471,303.5" fill="none" stroke="#50a850" stroke-width="0.9" stroke-opacity="0.9"/>
<path d="M450.2,271 C460.6,271 460.6,287.5 471,287.5" fill="none" stroke="#50a850" stroke-width="0.9" stroke-opacity="0.9"/>
<path d="M450.2,233 C460.6,233 460.6,211.8 471,211.8 L471,218.1 C460.6,218.1 460.6,235 450.2,235 Z" fill="#4fae8a" stroke="none" stroke-width="1" fill-opacity="0.95"/>
<path d="M450.2,253 C460.6,253 460.6,230.3 471,230.3 L471,235.6 C460.6,235.6 460.6,255 450.2,255 Z" fill="#62b8ae" stroke="none" stroke-width="1" fill-opacity="0.9"/>
<path d="M450.2,246.5 C460.6,246.5 460.6,224.5 471,224.5 L471,230.2 C460.6,230.2 460.6,248 450.2,248 Z" fill="#4aa844" stroke="none" stroke-width="1" fill-opacity="0.9"/>
<path d="M450.2,211.8 C460.6,211.8 460.6,250.5 471,250.5 L471,263.3 C460.6,263.3 460.6,218.2 450.2,218.2 Z" fill="#4aa84c" stroke="none" stroke-width="1" fill-opacity="0.92"/>
<path d="M450.2,241.3 C460.6,241.3 460.6,240.6 471,240.6 L471,245.6 C460.6,245.6 460.6,244.6 450.2,244.6 Z" fill="#b0c828" stroke="none" stroke-width="1" fill-opacity="0.95"/>
<path d="M450.2,266.4 C460.6,266.4 460.6,268.7 471,268.7 L471,272 C460.6,272 460.6,267.6 450.2,267.6 Z" fill="#eea020" stroke="none" stroke-width="1" fill-opacity="0.95"/>
<path d="M450.2,258.5 C460.6,258.5 460.6,279.6 471,279.6 L471,283.4 C460.6,283.4 460.6,259.8 450.2,259.8 Z" fill="#e8d830" stroke="none" stroke-width="1" fill-opacity="0.9"/>
<path d="M450.2,261 C460.6,261 460.6,287.2 471,287.2 L471,292 C460.6,292 460.6,262.5 450.2,262.5 Z" fill="#d8dc30" stroke="none" stroke-width="1" fill-opacity="0.9"/>
<path d="M450.2,238.5 C460.6,238.5 460.6,291.8 471,291.8 L471,296 C460.6,296 460.6,240 450.2,240 Z" fill="#50b040" stroke="none" stroke-width="1" fill-opacity="0.9"/>
<text x="12.00" y="386.00" font-size="11.3" text-anchor="middle" fill="#111" stroke="#111" stroke-width="0.35" font-weight="bold" >C</text>
<text x="28.80" y="385.50" font-size="8.3" text-anchor="start" fill="#3172ac" stroke="#3172ac" stroke-width="0.04" font-weight="normal" textLength="15.8" lengthAdjust="spacingAndGlyphs" >N IS</text>
<line x1="43.70" y1="393.30" x2="43.70" y2="516.60" stroke="#1e1e1e" stroke-width="1.5" />
<line x1="40.50" y1="515.80" x2="43.70" y2="515.80" stroke="#1e1e1e" stroke-width="1.2" />
<text x="38.20" y="518.80" font-size="8.4" text-anchor="end" fill="#333" stroke="#333" stroke-width="0.08" font-weight="normal" >0</text>
<line x1="40.50" y1="455.05" x2="43.70" y2="455.05" stroke="#1e1e1e" stroke-width="1.2" />
<text x="38.20" y="458.05" font-size="8.4" text-anchor="end" fill="#333" stroke="#333" stroke-width="0.08" font-weight="normal" >50</text>
<line x1="40.50" y1="394.30" x2="43.70" y2="394.30" stroke="#1e1e1e" stroke-width="1.2" />
<text x="38.20" y="397.30" font-size="8.4" text-anchor="end" fill="#333" stroke="#333" stroke-width="0.08" font-weight="normal" >100</text>
<text x="15.60" y="453.20" font-size="8.6" text-anchor="middle" fill="#333" stroke="#333" stroke-width="0.14" font-weight="normal" textLength="92" lengthAdjust="spacingAndGlyphs" transform="rotate(-90 15.6 453.2)">ZAP70 AAV IS abund. (%)</text>
<line x1="43.00" y1="515.90" x2="163.80" y2="515.90" stroke="#1e1e1e" stroke-width="1.3" />
<line x1="57.25" y1="515.80" x2="57.25" y2="519.00" stroke="#1e1e1e" stroke-width="1.1" />
<text x="57.25" y="531.00" font-size="8.6" text-anchor="middle" fill="#333" stroke="#333" stroke-width="0.14" font-weight="normal" >106</text>
<text x="57.25" y="385.50" font-size="8.3" text-anchor="middle" fill="#3172ac" stroke="#3172ac" stroke-width="0.04" font-weight="normal" >11</text>
<line x1="85.65" y1="515.80" x2="85.65" y2="519.00" stroke="#1e1e1e" stroke-width="1.1" />
<text x="85.65" y="531.00" font-size="8.6" text-anchor="middle" fill="#333" stroke="#333" stroke-width="0.14" font-weight="normal" >108</text>
<text x="85.65" y="385.50" font-size="8.3" text-anchor="middle" fill="#3172ac" stroke="#3172ac" stroke-width="0.04" font-weight="normal" >70</text>
<line x1="118.40" y1="515.80" x2="118.40" y2="519.00" stroke="#1e1e1e" stroke-width="1.1" />
<text x="118.40" y="531.00" font-size="8.6" text-anchor="middle" fill="#333" stroke="#333" stroke-width="0.14" font-weight="normal" >488</text>
<text x="118.40" y="385.50" font-size="8.3" text-anchor="middle" fill="#3172ac" stroke="#3172ac" stroke-width="0.04" font-weight="normal" >51</text>
<line x1="145.90" y1="515.80" x2="145.90" y2="519.00" stroke="#1e1e1e" stroke-width="1.1" />
<text x="145.90" y="531.00" font-size="8.6" text-anchor="middle" fill="#333" stroke="#333" stroke-width="0.14" font-weight="normal" >489</text>
<text x="145.90" y="385.50" font-size="8.3" text-anchor="middle" fill="#3172ac" stroke="#3172ac" stroke-width="0.04" font-weight="normal" >20</text>
<line x1="101.30" y1="381.50" x2="101.30" y2="540.50" stroke="#222" stroke-width="1.3" stroke-dasharray="1.5,1.8" />
<line x1="49.70" y1="535.80" x2="92.80" y2="535.80" stroke="#383838" stroke-width="1.4" />
<text x="72.00" y="546.00" font-size="8.6" text-anchor="middle" fill="#333" stroke="#333" stroke-width="0.14" font-weight="normal" >LN</text>
<line x1="108.80" y1="535.80" x2="152.50" y2="535.80" stroke="#383838" stroke-width="1.4" />
<text x="131.00" y="546.00" font-size="8.6" text-anchor="middle" fill="#333" stroke="#333" stroke-width="0.14" font-weight="normal" >LIV</text>
<rect x="47.00" y="395.00" width="20.50" height="71.15" fill="#b0449a" />
<rect x="47.00" y="465.80" width="20.50" height="19.25" fill="#acc820" />
<rect x="47.00" y="484.70" width="20.50" height="10.05" fill="#e81a1a" />
<rect x="47.00" y="494.40" width="20.50" height="5.65" fill="#3a50a8" />
<rect x="47.00" y="499.70" width="20.50" height="4.65" fill="#d85a4a" />
<rect x="47.00" y="504.00" width="20.50" height="2.55" fill="#3a2030" />
<rect x="47.00" y="506.20" width="20.50" height="1.95" fill="#d8a898" />
<rect x="47.00" y="507.80" width="20.50" height="1.55" fill="#5a3a80" />
<rect x="47.00" y="509.00" width="20.50" height="1.85" fill="#c0d040" />
<rect x="47.00" y="510.50" width="20.50" height="4.85" fill="#d8d8d8" />
<rect x="75.50" y="395.00" width="20.30" height="8.15" fill="#e8201a" />
<rect x="75.50" y="402.80" width="20.30" height="9.45" fill="#f5ae15" />
<rect x="75.50" y="411.90" width="20.30" height="7.85" fill="#e05030" />
<rect x="75.50" y="419.40" width="20.30" height="8.45" fill="#50b038" />
<rect x="75.50" y="427.50" width="20.30" height="6.85" fill="#f08a20" />
<rect x="75.50" y="434.00" width="20.30" height="4.05" fill="#e07a40" />
<rect x="75.50" y="437.70" width="20.30" height="4.65" fill="#e81a5a" />
<rect x="75.50" y="442.00" width="20.30" height="3.65" fill="#8a3a98" />
<rect x="75.50" y="445.30" width="20.30" height="4.05" fill="#f0b820" />
<rect x="75.50" y="449.00" width="20.30" height="3.05" fill="#2a2a80" />
<rect x="75.50" y="451.70" width="20.30" height="4.25" fill="#60b8b0" />
<rect x="75.50" y="455.60" width="20.30" height="3.05" fill="#3a2a70" />
<rect x="75.50" y="458.30" width="20.30" height="3.55" fill="#f0a040" />
<rect x="75.50" y="461.50" width="20.30" height="2.55" fill="#4a2a80" />
<rect x="75.50" y="463.70" width="20.30" height="2.45" fill="#d84a40" />
<rect x="75.50" y="465.80" width="20.30" height="4.65" fill="#50b8c8" />
<rect x="75.50" y="470.10" width="20.30" height="2.25" fill="#b0a080" />
<rect x="75.50" y="472.00" width="20.30" height="2.25" fill="#4a3040" />
<rect x="75.50" y="473.90" width="20.30" height="3.55" fill="#f0c840" />
<rect x="75.50" y="477.10" width="20.30" height="3.65" fill="#5a2a90" />
<rect x="75.50" y="480.40" width="20.30" height="3.05" fill="#6890b0" />
<rect x="75.50" y="483.10" width="20.30" height="3.55" fill="#7a3a98" />
<rect x="75.50" y="486.30" width="20.30" height="2.05" fill="#c8a0c8" />
<rect x="75.50" y="488.00" width="20.30" height="4.55" fill="#403a98" />
<rect x="75.50" y="492.20" width="20.30" height="2.55" fill="#60a860" />
<rect x="75.50" y="494.40" width="20.30" height="2.45" fill="#e04a30" />
<rect x="75.50" y="496.50" width="20.30" height="3.05" fill="#a0a050" />
<rect x="75.50" y="499.20" width="20.30" height="3.05" fill="#50b0a0" />
<rect x="75.50" y="501.90" width="20.30" height="4.15" fill="#b08070" />
<rect x="75.50" y="505.70" width="20.30" height="2.65" fill="#c0908a" />
<rect x="75.50" y="508.00" width="20.30" height="4.45" fill="#a06a9a" />
<rect x="75.50" y="512.10" width="20.30" height="2.25" fill="#8a4aa0" />
<rect x="75.50" y="514.00" width="20.30" height="1.35" fill="#80c040" />
<rect x="108.00" y="395.00" width="20.80" height="31.25" fill="#c0409a" />
<rect x="108.00" y="425.90" width="20.80" height="6.25" fill="#f0ae20" />
<rect x="108.00" y="431.80" width="20.80" height="12.75" fill="#58b038" />
<rect x="108.00" y="444.20" width="20.80" height="5.75" fill="#d83a3a" />
<rect x="108.00" y="449.60" width="20.80" height="4.15" fill="#50b040" />
<rect x="108.00" y="453.40" width="20.80" height="1.95" fill="#f08a30" />
<rect x="108.00" y="455.00" width="20.80" height="5.25" fill="#e86a20" />
<rect x="108.00" y="459.90" width="20.80" height="3.55" fill="#58b040" />
<rect x="108.00" y="463.10" width="20.80" height="3.05" fill="#90d0c0" />
<rect x="108.00" y="465.80" width="20.80" height="6.35" fill="#e0208a" />
<rect x="108.00" y="471.80" width="20.80" height="6.25" fill="#50b050" />
<rect x="108.00" y="477.70" width="20.80" height="1.95" fill="#e04a30" />
<rect x="108.00" y="479.30" width="20.80" height="4.15" fill="#e01a8a" />
<rect x="108.00" y="483.10" width="20.80" height="4.65" fill="#e03040" />
<rect x="108.00" y="487.40" width="20.80" height="2.45" fill="#6a2a8a" />
<rect x="108.00" y="489.50" width="20.80" height="2.35" fill="#90a060" />
<rect x="108.00" y="491.50" width="20.80" height="2.85" fill="#f09040" />
<rect x="108.00" y="494.00" width="20.80" height="2.35" fill="#70b040" />
<rect x="108.00" y="496.00" width="20.80" height="2.35" fill="#5a4aa0" />
<rect x="108.00" y="498.00" width="20.80" height="2.35" fill="#50b0a0" />
<rect x="108.00" y="500.00" width="20.80" height="2.35" fill="#a04a50" />
<rect x="108.00" y="502.00" width="20.80" height="2.35" fill="#e89040" />
<rect x="108.00" y="504.00" width="20.80" height="2.35" fill="#e86030" />
<rect x="108.00" y="506.00" width="20.80" height="3.85" fill="#70b040" />
<rect x="108.00" y="509.50" width="20.80" height="1.85" fill="#a0c0e0" />
<rect x="108.00" y="511.00" width="20.80" height="4.35" fill="#3a4a90" />
<rect x="135.50" y="395.00" width="20.80" height="19.45" fill="#c0409a" />
<rect x="135.50" y="414.10" width="20.80" height="14.35" fill="#e08a40" />
<rect x="135.50" y="428.10" width="20.80" height="12.15" fill="#2a2a90" />
<rect x="135.50" y="439.90" width="20.80" height="11.15" fill="#80c8b8" />
<rect x="135.50" y="450.70" width="20.80" height="11.15" fill="#6ab838" />
<rect x="135.50" y="461.50" width="20.80" height="7.95" fill="#e88a40" />
<rect x="135.50" y="469.10" width="20.80" height="5.75" fill="#a0c830" />
<rect x="135.50" y="474.50" width="20.80" height="4.65" fill="#2a3090" />
<rect x="135.50" y="478.80" width="20.80" height="4.65" fill="#40b8e0" />
<rect x="135.50" y="483.10" width="20.80" height="4.05" fill="#60b040" />
<rect x="135.50" y="486.80" width="20.80" height="4.15" fill="#8a2a60" />
<rect x="135.50" y="490.60" width="20.80" height="3.05" fill="#d06080" />
<rect x="135.50" y="493.30" width="20.80" height="2.45" fill="#3a2a70" />
<rect x="135.50" y="495.40" width="20.80" height="2.55" fill="#f09030" />
<rect x="135.50" y="497.60" width="20.80" height="2.45" fill="#50b0a0" />
<rect x="135.50" y="499.70" width="20.80" height="4.75" fill="#4a4aa8" />
<rect x="135.50" y="504.10" width="20.80" height="3.55" fill="#f09040" />
<rect x="135.50" y="507.30" width="20.80" height="8.05" fill="#d8d8e0" />
<text x="185.80" y="386.00" font-size="11.3" text-anchor="middle" fill="#111" stroke="#111" stroke-width="0.35" font-weight="bold" >D</text>
<text x="208.80" y="385.50" font-size="8.3" text-anchor="start" fill="#3172ac" stroke="#3172ac" stroke-width="0.04" font-weight="normal" textLength="15.8" lengthAdjust="spacingAndGlyphs" >N IS</text>
<line x1="216.80" y1="394.00" x2="216.80" y2="516.80" stroke="#1e1e1e" stroke-width="1.5" />
<line x1="213.60" y1="516.00" x2="216.80" y2="516.00" stroke="#1e1e1e" stroke-width="1.2" />
<text x="211.20" y="519.00" font-size="8.4" text-anchor="end" fill="#333" stroke="#333" stroke-width="0.08" font-weight="normal" >0</text>
<line x1="213.60" y1="455.50" x2="216.80" y2="455.50" stroke="#1e1e1e" stroke-width="1.2" />
<text x="211.20" y="458.50" font-size="8.4" text-anchor="end" fill="#333" stroke="#333" stroke-width="0.08" font-weight="normal" >50</text>
<line x1="213.60" y1="395.00" x2="216.80" y2="395.00" stroke="#1e1e1e" stroke-width="1.2" />
<text x="211.20" y="398.00" font-size="8.4" text-anchor="end" fill="#333" stroke="#333" stroke-width="0.08" font-weight="normal" >100</text>
<text x="187.60" y="453.50" font-size="8.6" text-anchor="middle" fill="#333" stroke="#333" stroke-width="0.14" font-weight="normal" textLength="93" lengthAdjust="spacingAndGlyphs" transform="rotate(-90 187.6 453.5)">GFP:WT AAV IS abund. (%)</text>
<line x1="216.00" y1="516.00" x2="512.70" y2="516.00" stroke="#1e1e1e" stroke-width="1.3" />
<line x1="233.40" y1="516.00" x2="233.40" y2="519.00" stroke="#1e1e1e" stroke-width="1.1" />
<text x="233.40" y="531.00" font-size="8.6" text-anchor="middle" fill="#333" stroke="#333" stroke-width="0.14" font-weight="normal" >N10</text>
<text x="233.40" y="385.50" font-size="8.3" text-anchor="middle" fill="#3172ac" stroke="#3172ac" stroke-width="0.04" font-weight="normal" >1</text>
<line x1="262.15" y1="516.00" x2="262.15" y2="519.00" stroke="#1e1e1e" stroke-width="1.1" />
<text x="262.15" y="531.00" font-size="8.6" text-anchor="middle" fill="#333" stroke="#333" stroke-width="0.14" font-weight="normal" >N17</text>
<text x="262.15" y="385.50" font-size="8.3" text-anchor="middle" fill="#3172ac" stroke="#3172ac" stroke-width="0.04" font-weight="normal" >18</text>
<line x1="291.60" y1="516.00" x2="291.60" y2="519.00" stroke="#1e1e1e" stroke-width="1.1" />
<text x="291.60" y="531.00" font-size="8.6" text-anchor="middle" fill="#333" stroke="#333" stroke-width="0.14" font-weight="normal" >N27</text>
<text x="291.60" y="385.50" font-size="8.3" text-anchor="middle" fill="#3172ac" stroke="#3172ac" stroke-width="0.04" font-weight="normal" >2</text>
<line x1="319.60" y1="516.00" x2="319.60" y2="519.00" stroke="#1e1e1e" stroke-width="1.1" />
<text x="319.60" y="531.00" font-size="8.6" text-anchor="middle" fill="#333" stroke="#333" stroke-width="0.14" font-weight="normal" >N28</text>
<text x="319.60" y="385.50" font-size="8.3" text-anchor="middle" fill="#3172ac" stroke="#3172ac" stroke-width="0.04" font-weight="normal" >4</text>
<line x1="349.60" y1="516.00" x2="349.60" y2="519.00" stroke="#1e1e1e" stroke-width="1.1" />
<text x="349.60" y="531.00" font-size="8.6" text-anchor="middle" fill="#333" stroke="#333" stroke-width="0.14" font-weight="normal" >N29</text>
<text x="349.60" y="385.50" font-size="8.3" text-anchor="middle" fill="#3172ac" stroke="#3172ac" stroke-width="0.04" font-weight="normal" >14</text>
<line x1="384.15" y1="516.00" x2="384.15" y2="519.00" stroke="#1e1e1e" stroke-width="1.1" />
<text x="384.15" y="531.00" font-size="8.6" text-anchor="middle" fill="#333" stroke="#333" stroke-width="0.14" font-weight="normal" >SP1</text>
<text x="384.15" y="385.50" font-size="8.3" text-anchor="middle" fill="#3172ac" stroke="#3172ac" stroke-width="0.04" font-weight="normal" >7</text>
<line x1="412.90" y1="516.00" x2="412.90" y2="519.00" stroke="#1e1e1e" stroke-width="1.1" />
<text x="412.90" y="531.00" font-size="8.6" text-anchor="middle" fill="#333" stroke="#333" stroke-width="0.14" font-weight="normal" >SP4</text>
<text x="412.90" y="385.50" font-size="8.3" text-anchor="middle" fill="#3172ac" stroke="#3172ac" stroke-width="0.04" font-weight="normal" >17</text>
<line x1="442.25" y1="516.00" x2="442.25" y2="519.00" stroke="#1e1e1e" stroke-width="1.1" />
<text x="442.25" y="531.00" font-size="8.6" text-anchor="middle" fill="#333" stroke="#333" stroke-width="0.14" font-weight="normal" >SP8</text>
<text x="442.25" y="385.50" font-size="8.3" text-anchor="middle" fill="#3172ac" stroke="#3172ac" stroke-width="0.04" font-weight="normal" >16</text>
<line x1="470.50" y1="516.00" x2="470.50" y2="519.00" stroke="#1e1e1e" stroke-width="1.1" />
<text x="470.50" y="531.00" font-size="8.6" text-anchor="middle" fill="#333" stroke="#333" stroke-width="0.14" font-weight="normal" >SP9</text>
<text x="470.50" y="385.50" font-size="8.3" text-anchor="middle" fill="#3172ac" stroke="#3172ac" stroke-width="0.04" font-weight="normal" >22</text>
<line x1="498.85" y1="516.00" x2="498.85" y2="519.00" stroke="#1e1e1e" stroke-width="1.1" />
<text x="498.85" y="531.00" font-size="8.6" text-anchor="middle" fill="#333" stroke="#333" stroke-width="0.14" font-weight="normal" >SP13</text>
<text x="498.85" y="385.50" font-size="8.3" text-anchor="middle" fill="#3172ac" stroke="#3172ac" stroke-width="0.04" font-weight="normal" >1</text>
<line x1="366.80" y1="381.50" x2="366.80" y2="540.50" stroke="#222" stroke-width="1.3" stroke-dasharray="1.5,1.8" />
<line x1="233.00" y1="535.80" x2="349.50" y2="535.80" stroke="#383838" stroke-width="1.4" />
<text x="291.50" y="546.00" font-size="8.6" text-anchor="middle" fill="#333" stroke="#333" stroke-width="0.14" font-weight="normal" >LN</text>
<line x1="379.50" y1="535.80" x2="496.00" y2="535.80" stroke="#383838" stroke-width="1.4" />
<text x="437.50" y="546.00" font-size="8.6" text-anchor="middle" fill="#333" stroke="#333" stroke-width="0.14" font-weight="normal" >SPL</text>
<rect x="223.00" y="396.00" width="20.80" height="119.35" fill="#d9d9d9" />
<rect x="223.00" y="515.00" width="20.80" height="0.20" fill="#d9d9d9" />
<rect x="251.80" y="396.00" width="20.70" height="32.35" fill="#3a7fc2" />
<rect x="251.80" y="428.00" width="20.70" height="17.35" fill="#5bc2d2" />
<rect x="251.80" y="445.00" width="20.70" height="15.35" fill="#e8562a" />
<rect x="251.80" y="460.00" width="20.70" height="10.85" fill="#7030a0" />
<rect x="251.80" y="470.50" width="20.70" height="11.85" fill="#31b2e2" />
<rect x="251.80" y="482.00" width="20.70" height="12.15" fill="#e0328a" />
<rect x="251.80" y="493.80" width="20.70" height="11.55" fill="#9cc131" />
<rect x="251.80" y="505.00" width="20.70" height="10.35" fill="#d9d9d9" />
<rect x="251.80" y="515.00" width="20.70" height="0.20" fill="#d9d9d9" />
<rect x="281.20" y="396.00" width="20.80" height="59.85" fill="#84c9b2" />
<rect x="281.20" y="455.50" width="20.80" height="1.35" fill="#b8e0d0" />
<rect x="281.20" y="456.50" width="20.80" height="58.85" fill="#d9d9d9" />
<rect x="281.20" y="515.00" width="20.80" height="0.20" fill="#d9d9d9" />
<rect x="309.20" y="396.00" width="20.80" height="38.85" fill="#e21a62" />
<rect x="309.20" y="434.50" width="20.80" height="19.65" fill="#62b043" />
<rect x="309.20" y="453.80" width="20.80" height="9.05" fill="#3252a2" />
<rect x="309.20" y="462.50" width="20.80" height="52.85" fill="#d9d9d9" />
<rect x="309.20" y="515.00" width="20.80" height="0.20" fill="#d9d9d9" />
<rect x="339.20" y="396.00" width="20.80" height="18.15" fill="#a2c332" />
<rect x="339.20" y="413.80" width="20.80" height="10.35" fill="#42b294" />
<rect x="339.20" y="423.80" width="20.80" height="11.05" fill="#7232a2" />
<rect x="339.20" y="434.50" width="20.80" height="10.85" fill="#43bad2" />
<rect x="339.20" y="445.00" width="20.80" height="7.85" fill="#72b942" />
<rect x="339.20" y="452.50" width="20.80" height="6.65" fill="#c242a2" />
<rect x="339.20" y="458.80" width="20.80" height="7.85" fill="#f1d222" />
<rect x="339.20" y="466.30" width="20.80" height="7.85" fill="#c23c92" />
<rect x="339.20" y="473.80" width="20.80" height="6.55" fill="#3292d2" />
<rect x="339.20" y="480.00" width="20.80" height="7.85" fill="#52bab2" />
<rect x="339.20" y="487.50" width="20.80" height="7.85" fill="#42b2da" />
<rect x="339.20" y="495.00" width="20.80" height="7.85" fill="#92c232" />
<rect x="339.20" y="502.50" width="20.80" height="6.65" fill="#2c3292" />
<rect x="339.20" y="508.80" width="20.80" height="6.55" fill="#d9d9d9" />
<rect x="339.20" y="515.00" width="20.80" height="0.20" fill="#d9d9d9" />
<rect x="373.80" y="396.00" width="20.70" height="60.65" fill="#e8185c" />
<rect x="373.80" y="456.30" width="20.70" height="20.35" fill="#e85222" />
<rect x="373.80" y="476.30" width="20.70" height="6.55" fill="#e02c8c" />
<rect x="373.80" y="482.50" width="20.70" height="7.85" fill="#52baa2" />
<rect x="373.80" y="490.00" width="20.70" height="6.65" fill="#72ba42" />
<rect x="373.80" y="496.30" width="20.70" height="7.85" fill="#a2ca2a" />
<rect x="373.80" y="503.80" width="20.70" height="11.55" fill="#d9d9d9" />
<rect x="373.80" y="515.00" width="20.70" height="0.20" fill="#d9d9d9" />
<rect x="402.50" y="396.00" width="20.80" height="28.45" fill="#48b8c8" />
<rect x="402.50" y="424.10" width="20.80" height="13.05" fill="#5a2a98" />
<rect x="402.50" y="436.80" width="20.80" height="9.65" fill="#f0a020" />
<rect x="402.50" y="446.10" width="20.80" height="7.15" fill="#e0283a" />
<rect x="402.50" y="452.90" width="20.80" height="8.25" fill="#58b040" />
<rect x="402.50" y="460.80" width="20.80" height="7.95" fill="#3a2a90" />
<rect x="402.50" y="468.40" width="20.80" height="5.45" fill="#f0d020" />
<rect x="402.50" y="473.50" width="20.80" height="4.55" fill="#e85030" />
<rect x="402.50" y="477.70" width="20.80" height="5.05" fill="#a04098" />
<rect x="402.50" y="482.40" width="20.80" height="5.75" fill="#58b040" />
<rect x="402.50" y="487.80" width="20.80" height="9.65" fill="#3a50b0" />
<rect x="402.50" y="497.10" width="20.80" height="9.75" fill="#80c030" />
<rect x="402.50" y="506.50" width="20.80" height="5.35" fill="#50b0c8" />
<rect x="402.50" y="511.50" width="20.80" height="3.85" fill="#d9d9d9" />
<rect x="402.50" y="515.00" width="20.80" height="0.20" fill="#d9d9d9" />
<rect x="431.80" y="396.00" width="20.90" height="25.15" fill="#8a3aa0" />
<rect x="431.80" y="420.80" width="20.90" height="23.15" fill="#58b038" />
<rect x="431.80" y="443.60" width="20.90" height="19.25" fill="#60b8d8" />
<rect x="431.80" y="462.50" width="20.90" height="14.65" fill="#7a2a98" />
<rect x="431.80" y="476.80" width="20.90" height="6.35" fill="#50b040" />
<rect x="431.80" y="482.80" width="20.90" height="5.35" fill="#40b0a8" />
<rect x="431.80" y="487.80" width="20.90" height="4.65" fill="#c0409a" />
<rect x="431.80" y="492.10" width="20.90" height="2.85" fill="#3a2a88" />
<rect x="431.80" y="494.60" width="20.90" height="4.05" fill="#f08a30" />
<rect x="431.80" y="498.30" width="20.90" height="3.05" fill="#60b8b0" />
<rect x="431.80" y="501.00" width="20.90" height="2.45" fill="#d83030" />
<rect x="431.80" y="503.10" width="20.90" height="3.25" fill="#50b0c0" />
<rect x="431.80" y="506.00" width="20.90" height="3.35" fill="#2a2a80" />
<rect x="431.80" y="509.00" width="20.90" height="2.35" fill="#60b8c8" />
<rect x="431.80" y="511.00" width="20.90" height="4.35" fill="#f0b020" />
<rect x="431.80" y="515.00" width="20.90" height="0.20" fill="#f0b020" />
<rect x="460.00" y="396.00" width="21.00" height="52.15" fill="#48b8c8" />
<rect x="460.00" y="447.80" width="21.00" height="9.95" fill="#e88a28" />
<rect x="460.00" y="457.40" width="21.00" height="4.55" fill="#3a70c0" />
<rect x="460.00" y="461.60" width="21.00" height="5.45" fill="#50b040" />
<rect x="460.00" y="466.70" width="21.00" height="2.15" fill="#50b8a0" />
<rect x="460.00" y="468.50" width="21.00" height="2.75" fill="#2a3a90" />
<rect x="460.00" y="470.90" width="21.00" height="2.45" fill="#50b040" />
<rect x="460.00" y="473.00" width="21.00" height="5.05" fill="#b0c830" />
<rect x="460.00" y="477.70" width="21.00" height="4.55" fill="#40a8d8" />
<rect x="460.00" y="481.90" width="21.00" height="2.45" fill="#203070" />
<rect x="460.00" y="484.00" width="21.00" height="2.35" fill="#a0c830" />
<rect x="460.00" y="486.00" width="21.00" height="2.35" fill="#f0a030" />
<rect x="460.00" y="488.00" width="21.00" height="4.45" fill="#e02030" />
<rect x="460.00" y="492.10" width="21.00" height="2.25" fill="#50b0b0" />
<rect x="460.00" y="494.00" width="21.00" height="2.35" fill="#f09040" />
<rect x="460.00" y="496.00" width="21.00" height="2.35" fill="#50b040" />
<rect x="460.00" y="498.00" width="21.00" height="1.85" fill="#e8d020" />
<rect x="460.00" y="499.50" width="21.00" height="2.35" fill="#70b848" />
<rect x="460.00" y="501.50" width="21.00" height="13.85" fill="#dcdcdc" />
<rect x="460.00" y="515.00" width="21.00" height="0.20" fill="#dcdcdc" />
<rect x="488.30" y="396.00" width="21.10" height="119.35" fill="#d9d9d9" />
<rect x="488.30" y="515.00" width="21.10" height="0.20" fill="#d9d9d9" />
<text x="85.60" y="568.80" font-size="11.3" text-anchor="middle" fill="#111" stroke="#111" stroke-width="0.35" font-weight="bold" >E</text>
<text x="102.50" y="566.40" font-size="8.3" text-anchor="start" fill="#3172ac" stroke="#3172ac" stroke-width="0.04" font-weight="normal" textLength="15.8" lengthAdjust="spacingAndGlyphs" >N IS</text>
<line x1="116.80" y1="573.20" x2="116.80" y2="692.60" stroke="#1e1e1e" stroke-width="1.5" />
<line x1="113.60" y1="691.80" x2="116.80" y2="691.80" stroke="#1e1e1e" stroke-width="1.2" />
<text x="110.50" y="694.80" font-size="8.4" text-anchor="end" fill="#333" stroke="#333" stroke-width="0.08" font-weight="normal" >0</text>
<line x1="113.60" y1="633.00" x2="116.80" y2="633.00" stroke="#1e1e1e" stroke-width="1.2" />
<text x="110.50" y="636.00" font-size="8.4" text-anchor="end" fill="#333" stroke="#333" stroke-width="0.08" font-weight="normal" >50</text>
<line x1="113.60" y1="574.20" x2="116.80" y2="574.20" stroke="#1e1e1e" stroke-width="1.2" />
<text x="110.50" y="577.20" font-size="8.4" text-anchor="end" fill="#333" stroke="#333" stroke-width="0.08" font-weight="normal" >100</text>
<text x="88.30" y="631.30" font-size="8.6" text-anchor="middle" fill="#333" stroke="#333" stroke-width="0.14" font-weight="normal" textLength="81" lengthAdjust="spacingAndGlyphs" transform="rotate(-90 88.3 631.3)">PhP AAV IS abund. (%)</text>
<line x1="116.00" y1="692.10" x2="438.80" y2="692.10" stroke="#1e1e1e" stroke-width="1.3" />
<line x1="130.65" y1="691.80" x2="130.65" y2="695.00" stroke="#1e1e1e" stroke-width="1.1" />
<text x="130.65" y="706.00" font-size="8.3" text-anchor="middle" fill="#333" stroke="#333" stroke-width="0.14" font-weight="normal" >D</text>
<text x="130.65" y="566.40" font-size="8.3" text-anchor="middle" fill="#3172ac" stroke="#3172ac" stroke-width="0.04" font-weight="normal" >26</text>
<line x1="158.40" y1="691.80" x2="158.40" y2="695.00" stroke="#1e1e1e" stroke-width="1.1" />
<text x="158.40" y="706.00" font-size="8.3" text-anchor="middle" fill="#333" stroke="#333" stroke-width="0.14" font-weight="normal" >E</text>
<text x="158.40" y="566.40" font-size="8.3" text-anchor="middle" fill="#3172ac" stroke="#3172ac" stroke-width="0.04" font-weight="normal" >60</text>
<line x1="190.40" y1="691.80" x2="190.40" y2="695.00" stroke="#1e1e1e" stroke-width="1.1" />
<text x="190.40" y="706.00" font-size="8.3" text-anchor="middle" fill="#333" stroke="#333" stroke-width="0.14" font-weight="normal" >H</text>
<text x="190.40" y="566.40" font-size="8.3" text-anchor="middle" fill="#3172ac" stroke="#3172ac" stroke-width="0.04" font-weight="normal" >57</text>
<line x1="218.40" y1="691.80" x2="218.40" y2="695.00" stroke="#1e1e1e" stroke-width="1.1" />
<text x="218.40" y="706.00" font-size="8.3" text-anchor="middle" fill="#333" stroke="#333" stroke-width="0.14" font-weight="normal" >I</text>
<text x="218.40" y="566.40" font-size="8.3" text-anchor="middle" fill="#3172ac" stroke="#3172ac" stroke-width="0.04" font-weight="normal" >73</text>
<line x1="249.20" y1="691.80" x2="249.20" y2="695.00" stroke="#1e1e1e" stroke-width="1.1" />
<text x="249.20" y="706.00" font-size="8.3" text-anchor="middle" fill="#333" stroke="#333" stroke-width="0.14" font-weight="normal" >J</text>
<text x="249.20" y="566.40" font-size="8.3" text-anchor="middle" fill="#3172ac" stroke="#3172ac" stroke-width="0.04" font-weight="normal" >184</text>
<line x1="277.00" y1="691.80" x2="277.00" y2="695.00" stroke="#1e1e1e" stroke-width="1.1" />
<text x="277.00" y="706.00" font-size="8.3" text-anchor="middle" fill="#333" stroke="#333" stroke-width="0.14" font-weight="normal" >K</text>
<text x="277.00" y="566.40" font-size="8.3" text-anchor="middle" fill="#3172ac" stroke="#3172ac" stroke-width="0.04" font-weight="normal" >305</text>
<line x1="314.60" y1="691.80" x2="314.60" y2="695.00" stroke="#1e1e1e" stroke-width="1.1" />
<text x="314.60" y="706.00" font-size="8.3" text-anchor="middle" fill="#333" stroke="#333" stroke-width="0.14" font-weight="normal" >L</text>
<text x="314.60" y="566.40" font-size="8.3" text-anchor="middle" fill="#3172ac" stroke="#3172ac" stroke-width="0.04" font-weight="normal" >492</text>
<line x1="342.25" y1="691.80" x2="342.25" y2="695.00" stroke="#1e1e1e" stroke-width="1.1" />
<text x="342.25" y="706.00" font-size="8.3" text-anchor="middle" fill="#333" stroke="#333" stroke-width="0.14" font-weight="normal" >M</text>
<text x="342.25" y="566.40" font-size="8.3" text-anchor="middle" fill="#3172ac" stroke="#3172ac" stroke-width="0.04" font-weight="normal" >269</text>
<line x1="370.00" y1="691.80" x2="370.00" y2="695.00" stroke="#1e1e1e" stroke-width="1.1" />
<text x="370.00" y="706.00" font-size="8.3" text-anchor="middle" fill="#333" stroke="#333" stroke-width="0.14" font-weight="normal" >P</text>
<text x="370.00" y="566.40" font-size="8.3" text-anchor="middle" fill="#3172ac" stroke="#3172ac" stroke-width="0.04" font-weight="normal" >25</text>
<line x1="397.75" y1="691.80" x2="397.75" y2="695.00" stroke="#1e1e1e" stroke-width="1.1" />
<text x="397.75" y="706.00" font-size="8.3" text-anchor="middle" fill="#333" stroke="#333" stroke-width="0.14" font-weight="normal" >S</text>
<text x="397.75" y="566.40" font-size="8.3" text-anchor="middle" fill="#3172ac" stroke="#3172ac" stroke-width="0.04" font-weight="normal" >764</text>
<line x1="425.80" y1="691.80" x2="425.80" y2="695.00" stroke="#1e1e1e" stroke-width="1.1" />
<text x="425.80" y="706.00" font-size="8.3" text-anchor="middle" fill="#333" stroke="#333" stroke-width="0.14" font-weight="normal" >T</text>
<text x="425.80" y="566.40" font-size="8.3" text-anchor="middle" fill="#3172ac" stroke="#3172ac" stroke-width="0.04" font-weight="normal" >938</text>
<line x1="295.00" y1="560.50" x2="295.00" y2="711.00" stroke="#222" stroke-width="1.4" stroke-dasharray="1.6,1.9" />
<line x1="125.00" y1="711.50" x2="168.20" y2="711.50" stroke="#383838" stroke-width="1.4" />
<line x1="184.80" y1="711.50" x2="228.80" y2="711.50" stroke="#383838" stroke-width="1.4" />
<line x1="245.00" y1="711.50" x2="286.30" y2="711.50" stroke="#383838" stroke-width="1.4" />
<text x="144.00" y="725.80" font-size="8.3" text-anchor="middle" fill="#333" stroke="#333" stroke-width="0.05" font-weight="normal" >1 ×10</text>
<text x="154.90" y="722.00" font-size="5.4" text-anchor="start" fill="#333" stroke="#333" stroke-width="0.05" font-weight="normal" >10</text>
<text x="204.00" y="725.80" font-size="8.3" text-anchor="middle" fill="#333" stroke="#333" stroke-width="0.05" font-weight="normal" >1 ×10</text>
<text x="214.90" y="722.00" font-size="5.4" text-anchor="start" fill="#333" stroke="#333" stroke-width="0.05" font-weight="normal" >11</text>
<text x="263.00" y="725.80" font-size="8.3" text-anchor="middle" fill="#333" stroke="#333" stroke-width="0.05" font-weight="normal" >1 ×10</text>
<text x="273.90" y="722.00" font-size="5.4" text-anchor="start" fill="#333" stroke="#333" stroke-width="0.05" font-weight="normal" >12</text>
<line x1="138.80" y1="730.80" x2="274.80" y2="730.80" stroke="#4a4a4a" stroke-width="1.4" />
<text x="207.30" y="741.60" font-size="8.3" text-anchor="middle" fill="#333" stroke="#333" stroke-width="0.14" font-weight="normal" >BR</text>
<line x1="310.80" y1="730.80" x2="425.00" y2="730.80" stroke="#4a4a4a" stroke-width="1.4" />
<text x="368.00" y="741.60" font-size="8.3" text-anchor="middle" fill="#333" stroke="#333" stroke-width="0.14" font-weight="normal" >LIV</text>
<rect x="120.50" y="575.20" width="20.30" height="9.55" fill="#48b050" />
<rect x="120.50" y="584.40" width="20.30" height="9.45" fill="#b8c830" />
<rect x="120.50" y="593.50" width="20.30" height="8.95" fill="#48b048" />
<rect x="120.50" y="602.10" width="20.30" height="8.45" fill="#3a88c8" />
<rect x="120.50" y="610.20" width="20.30" height="7.85" fill="#f59a20" />
<rect x="120.50" y="617.70" width="20.30" height="7.95" fill="#d83a90" />
<rect x="120.50" y="625.30" width="20.30" height="12.45" fill="#60b040" />
<rect x="120.50" y="637.40" width="20.30" height="6.75" fill="#e81a30" />
<rect x="120.50" y="643.80" width="20.30" height="5.75" fill="#502a90" />
<rect x="120.50" y="649.20" width="20.30" height="8.95" fill="#e0c820" />
<rect x="120.50" y="657.80" width="20.30" height="4.15" fill="#e8a020" />
<rect x="120.50" y="661.60" width="20.30" height="3.55" fill="#60b030" />
<rect x="120.50" y="664.80" width="20.30" height="3.05" fill="#f08a30" />
<rect x="120.50" y="667.50" width="20.30" height="3.65" fill="#5a2a40" />
<rect x="120.50" y="670.80" width="20.30" height="2.95" fill="#a0c030" />
<rect x="120.50" y="673.40" width="20.30" height="4.15" fill="#60b040" />
<rect x="120.50" y="677.20" width="20.30" height="6.25" fill="#4a2aa0" />
<rect x="120.50" y="683.10" width="20.30" height="3.05" fill="#a0c030" />
<rect x="120.50" y="685.80" width="20.30" height="2.55" fill="#70b040" />
<rect x="120.50" y="688.00" width="20.30" height="2.95" fill="#d8d8d8" />
<rect x="120.50" y="690.60" width="20.30" height="0.70" fill="#d8d8d8" />
<rect x="148.00" y="575.20" width="20.80" height="5.25" fill="#4a2a98" />
<rect x="148.00" y="580.10" width="20.80" height="9.45" fill="#50b040" />
<rect x="148.00" y="589.20" width="20.80" height="4.15" fill="#2a2a90" />
<rect x="148.00" y="593.00" width="20.80" height="4.15" fill="#80c8b8" />
<rect x="148.00" y="596.80" width="20.80" height="3.55" fill="#4a2a98" />
<rect x="148.00" y="600.00" width="20.80" height="4.15" fill="#50b040" />
<rect x="148.00" y="603.80" width="20.80" height="2.95" fill="#e01a50" />
<rect x="148.00" y="606.40" width="20.80" height="4.75" fill="#f0b020" />
<rect x="148.00" y="610.80" width="20.80" height="2.95" fill="#e86a20" />
<rect x="148.00" y="613.40" width="20.80" height="6.35" fill="#c0409a" />
<rect x="148.00" y="619.40" width="20.80" height="1.95" fill="#3a2a80" />
<rect x="148.00" y="621.00" width="20.80" height="6.75" fill="#50b050" />
<rect x="148.00" y="627.40" width="20.80" height="3.05" fill="#d82a8a" />
<rect x="148.00" y="630.10" width="20.80" height="2.25" fill="#4a2a90" />
<rect x="148.00" y="632.00" width="20.80" height="2.55" fill="#50b0a0" />
<rect x="148.00" y="634.20" width="20.80" height="2.45" fill="#60b040" />
<rect x="148.00" y="636.30" width="20.80" height="2.55" fill="#f09030" />
<rect x="148.00" y="638.50" width="20.80" height="1.85" fill="#3a2a60" />
<rect x="148.00" y="640.00" width="20.80" height="2.55" fill="#60b8a0" />
<rect x="148.00" y="642.20" width="20.80" height="2.15" fill="#5a2a70" />
<rect x="148.00" y="644.00" width="20.80" height="2.85" fill="#c040a0" />
<rect x="148.00" y="646.50" width="20.80" height="3.05" fill="#50b090" />
<rect x="148.00" y="649.20" width="20.80" height="2.55" fill="#5a2a3a" />
<rect x="148.00" y="651.40" width="20.80" height="1.95" fill="#60b050" />
<rect x="148.00" y="653.00" width="20.80" height="2.45" fill="#a0c040" />
<rect x="148.00" y="655.10" width="20.80" height="3.65" fill="#e02030" />
<rect x="148.00" y="658.40" width="20.80" height="3.55" fill="#60b040" />
<rect x="148.00" y="661.60" width="20.80" height="2.55" fill="#2a2a90" />
<rect x="148.00" y="663.80" width="20.80" height="2.45" fill="#806a40" />
<rect x="148.00" y="665.90" width="20.80" height="3.55" fill="#8a3a98" />
<rect x="148.00" y="669.10" width="20.80" height="4.65" fill="#50b8a0" />
<rect x="148.00" y="673.40" width="20.80" height="3.05" fill="#3a3a90" />
<rect x="148.00" y="676.10" width="20.80" height="4.65" fill="#b0c830" />
<rect x="148.00" y="680.40" width="20.80" height="3.65" fill="#50b040" />
<rect x="148.00" y="683.70" width="20.80" height="2.45" fill="#9a3a98" />
<rect x="148.00" y="685.80" width="20.80" height="5.15" fill="#e02060" />
<rect x="148.00" y="690.60" width="20.80" height="0.70" fill="#e02060" />
<rect x="180.00" y="575.20" width="20.80" height="6.25" fill="#e01a6a" />
<rect x="180.00" y="581.10" width="20.80" height="5.25" fill="#c0d020" />
<rect x="180.00" y="586.00" width="20.80" height="4.15" fill="#6a2a90" />
<rect x="180.00" y="589.80" width="20.80" height="4.05" fill="#a03a98" />
<rect x="180.00" y="593.50" width="20.80" height="4.65" fill="#b0c830" />
<rect x="180.00" y="597.80" width="20.80" height="3.65" fill="#3a2a70" />
<rect x="180.00" y="601.10" width="20.80" height="5.15" fill="#d0d820" />
<rect x="180.00" y="605.90" width="20.80" height="1.45" fill="#70b040" />
<rect x="180.00" y="607.00" width="20.80" height="3.05" fill="#e02060" />
<rect x="180.00" y="609.70" width="20.80" height="3.05" fill="#6a3a98" />
<rect x="180.00" y="612.40" width="20.80" height="1.95" fill="#2a2a60" />
<rect x="180.00" y="614.00" width="20.80" height="4.05" fill="#90c060" />
<rect x="180.00" y="617.70" width="20.80" height="1.65" fill="#4a4aa0" />
<rect x="180.00" y="619.00" width="20.80" height="3.95" fill="#e81a60" />
<rect x="180.00" y="622.60" width="20.80" height="3.55" fill="#d81a30" />
<rect x="180.00" y="625.80" width="20.80" height="4.15" fill="#40b0e0" />
<rect x="180.00" y="629.60" width="20.80" height="4.95" fill="#3a80c8" />
<rect x="180.00" y="634.20" width="20.80" height="2.95" fill="#d04a40" />
<rect x="180.00" y="636.80" width="20.80" height="3.65" fill="#7a3aa0" />
<rect x="180.00" y="640.10" width="20.80" height="2.45" fill="#a0d0e8" />
<rect x="180.00" y="642.20" width="20.80" height="4.15" fill="#8a3a98" />
<rect x="180.00" y="646.00" width="20.80" height="2.45" fill="#f0b030" />
<rect x="180.00" y="648.10" width="20.80" height="2.05" fill="#d83040" />
<rect x="180.00" y="649.80" width="20.80" height="2.45" fill="#e0d030" />
<rect x="180.00" y="651.90" width="20.80" height="3.55" fill="#60b050" />
<rect x="180.00" y="655.10" width="20.80" height="1.75" fill="#50b0b0" />
<rect x="180.00" y="656.50" width="20.80" height="1.65" fill="#90c030" />
<rect x="180.00" y="657.80" width="20.80" height="4.65" fill="#6a3aa0" />
<rect x="180.00" y="662.10" width="20.80" height="2.55" fill="#60b050" />
<rect x="180.00" y="664.30" width="20.80" height="1.95" fill="#f08a30" />
<rect x="180.00" y="665.90" width="20.80" height="4.65" fill="#50b040" />
<rect x="180.00" y="670.20" width="20.80" height="2.55" fill="#5a3a98" />
<rect x="180.00" y="672.40" width="20.80" height="4.65" fill="#60b050" />
<rect x="180.00" y="676.70" width="20.80" height="1.65" fill="#a04a40" />
<rect x="180.00" y="678.00" width="20.80" height="5.45" fill="#60b040" />
<rect x="180.00" y="683.10" width="20.80" height="3.05" fill="#f08a20" />
<rect x="180.00" y="685.80" width="20.80" height="1.95" fill="#b0c830" />
<rect x="180.00" y="687.40" width="20.80" height="1.95" fill="#4a2a80" />
<rect x="180.00" y="689.00" width="20.80" height="1.95" fill="#9070a8" />
<rect x="180.00" y="690.60" width="20.80" height="0.70" fill="#9070a8" />
<rect x="208.00" y="575.20" width="20.80" height="7.35" fill="#6a2a98" />
<rect x="208.00" y="582.20" width="20.80" height="3.65" fill="#9a3a9a" />
<rect x="208.00" y="585.50" width="20.80" height="4.05" fill="#48b8d8" />
<rect x="208.00" y="589.20" width="20.80" height="3.65" fill="#9a4a98" />
<rect x="208.00" y="592.50" width="20.80" height="4.05" fill="#b8c830" />
<rect x="208.00" y="596.20" width="20.80" height="7.35" fill="#e01a60" />
<rect x="208.00" y="603.20" width="20.80" height="3.05" fill="#40a8e0" />
<rect x="208.00" y="605.90" width="20.80" height="2.55" fill="#d84a50" />
<rect x="208.00" y="608.10" width="20.80" height="3.05" fill="#60b040" />
<rect x="208.00" y="610.80" width="20.80" height="2.95" fill="#60b8c0" />
<rect x="208.00" y="613.40" width="20.80" height="6.35" fill="#4a2a98" />
<rect x="208.00" y="619.40" width="20.80" height="1.95" fill="#b0a040" />
<rect x="208.00" y="621.00" width="20.80" height="1.95" fill="#d83040" />
<rect x="208.00" y="622.60" width="20.80" height="2.45" fill="#a0c8c0" />
<rect x="208.00" y="624.70" width="20.80" height="2.15" fill="#c04a50" />
<rect x="208.00" y="626.50" width="20.80" height="2.35" fill="#50a890" />
<rect x="208.00" y="628.50" width="20.80" height="1.85" fill="#205040" />
<rect x="208.00" y="630.00" width="20.80" height="5.05" fill="#40b8e0" />
<rect x="208.00" y="634.70" width="20.80" height="3.05" fill="#d83a40" />
<rect x="208.00" y="637.40" width="20.80" height="1.45" fill="#a0c8c8" />
<rect x="208.00" y="638.50" width="20.80" height="3.55" fill="#2a2a80" />
<rect x="208.00" y="641.70" width="20.80" height="2.45" fill="#80b050" />
<rect x="208.00" y="643.80" width="20.80" height="6.35" fill="#7a2aa0" />
<rect x="208.00" y="649.80" width="20.80" height="5.15" fill="#60b040" />
<rect x="208.00" y="654.60" width="20.80" height="3.55" fill="#4a4aa8" />
<rect x="208.00" y="657.80" width="20.80" height="4.15" fill="#d84a30" />
<rect x="208.00" y="661.60" width="20.80" height="1.75" fill="#a0c880" />
<rect x="208.00" y="663.00" width="20.80" height="2.35" fill="#b04a40" />
<rect x="208.00" y="665.00" width="20.80" height="3.95" fill="#c0d030" />
<rect x="208.00" y="668.60" width="20.80" height="2.55" fill="#2a3a70" />
<rect x="208.00" y="670.80" width="20.80" height="2.45" fill="#50b0a0" />
<rect x="208.00" y="672.90" width="20.80" height="3.55" fill="#6a2a98" />
<rect x="208.00" y="676.10" width="20.80" height="3.65" fill="#a0c830" />
<rect x="208.00" y="679.40" width="20.80" height="3.55" fill="#e0a030" />
<rect x="208.00" y="682.60" width="20.80" height="3.05" fill="#a04a30" />
<rect x="208.00" y="685.30" width="20.80" height="5.65" fill="#c0d030" />
<rect x="208.00" y="690.60" width="20.80" height="0.70" fill="#c0d030" />
<rect x="239.20" y="575.20" width="20.00" height="2.15" fill="#c8703a" />
<rect x="239.20" y="577.00" width="20.00" height="1.80" fill="#60b090" />
<rect x="239.20" y="578.45" width="20.00" height="1.05" fill="#6a2a80" />
<rect x="239.20" y="579.15" width="20.00" height="1.80" fill="#60b090" />
<rect x="239.20" y="580.60" width="20.00" height="1.75" fill="#405070" />
<rect x="239.20" y="582.00" width="20.00" height="2.15" fill="#80a0c0" />
<rect x="239.20" y="583.80" width="20.00" height="2.15" fill="#4a68c0" />
<rect x="239.20" y="585.60" width="20.00" height="1.05" fill="#5a70b0" />
<rect x="239.20" y="586.30" width="20.00" height="2.15" fill="#4a68c0" />
<rect x="239.20" y="588.10" width="20.00" height="2.20" fill="#a0c030" />
<rect x="239.20" y="589.95" width="20.00" height="1.05" fill="#a08a50" />
<rect x="239.20" y="590.65" width="20.00" height="2.20" fill="#a0c030" />
<rect x="239.20" y="592.50" width="20.00" height="1.85" fill="#d8c840" />
<rect x="239.20" y="594.00" width="20.00" height="1.40" fill="#a06090" />
<rect x="239.20" y="595.05" width="20.00" height="1.05" fill="#e8701e" />
<rect x="239.20" y="595.75" width="20.00" height="1.40" fill="#a06090" />
<rect x="239.20" y="596.80" width="20.00" height="2.05" fill="#d08060" />
<rect x="239.20" y="598.50" width="20.00" height="1.55" fill="#a0c040" />
<rect x="239.20" y="599.70" width="20.00" height="1.05" fill="#a08a50" />
<rect x="239.20" y="600.40" width="20.00" height="1.55" fill="#a0c040" />
<rect x="239.20" y="601.60" width="20.00" height="1.95" fill="#50a890" />
<rect x="239.20" y="603.20" width="20.00" height="1.95" fill="#303a70" />
<rect x="239.20" y="604.80" width="20.00" height="2.05" fill="#a08a50" />
<rect x="239.20" y="606.50" width="20.00" height="2.15" fill="#60b0a0" />
<rect x="239.20" y="608.30" width="20.00" height="1.05" fill="#a06090" />
<rect x="239.20" y="609.00" width="20.00" height="2.15" fill="#60b0a0" />
<rect x="239.20" y="610.80" width="20.00" height="2.05" fill="#c0a880" />
<rect x="239.20" y="612.50" width="20.00" height="1.80" fill="#e8701e" />
<rect x="239.20" y="613.95" width="20.00" height="1.05" fill="#a09070" />
<rect x="239.20" y="614.65" width="20.00" height="1.80" fill="#e8701e" />
<rect x="239.20" y="616.10" width="20.00" height="1.65" fill="#6a2a80" />
<rect x="239.20" y="617.40" width="20.00" height="1.05" fill="#60a890" />
<rect x="239.20" y="618.10" width="20.00" height="1.65" fill="#6a2a80" />
<rect x="239.20" y="619.40" width="20.00" height="1.85" fill="#70b040" />
<rect x="239.20" y="620.90" width="20.00" height="1.05" fill="#50a8a0" />
<rect x="239.20" y="621.60" width="20.00" height="1.85" fill="#70b040" />
<rect x="239.20" y="623.10" width="20.00" height="2.25" fill="#a09070" />
<rect x="239.20" y="625.00" width="20.00" height="1.85" fill="#6a3a90" />
<rect x="239.20" y="626.50" width="20.00" height="1.25" fill="#5a70b0" />
<rect x="239.20" y="627.40" width="20.00" height="1.05" fill="#d8c840" />
<rect x="239.20" y="628.10" width="20.00" height="1.25" fill="#5a70b0" />
<rect x="239.20" y="629.00" width="20.00" height="2.35" fill="#e09050" />
<rect x="239.20" y="631.00" width="20.00" height="1.50" fill="#70b050" />
<rect x="239.20" y="632.15" width="20.00" height="1.05" fill="#e8701e" />
<rect x="239.20" y="632.85" width="20.00" height="1.50" fill="#70b050" />
<rect x="239.20" y="634.00" width="20.00" height="1.05" fill="#a0c040" />
<rect x="239.20" y="634.70" width="20.00" height="1.60" fill="#d83040" />
<rect x="239.20" y="635.95" width="20.00" height="1.05" fill="#a0c040" />
<rect x="239.20" y="636.65" width="20.00" height="1.60" fill="#d83040" />
<rect x="239.20" y="637.90" width="20.00" height="1.95" fill="#6080a0" />
<rect x="239.20" y="639.50" width="20.00" height="1.65" fill="#7a3aa0" />
<rect x="239.20" y="640.80" width="20.00" height="1.05" fill="#50a8a0" />
<rect x="239.20" y="641.50" width="20.00" height="1.65" fill="#7a3aa0" />
<rect x="239.20" y="642.80" width="20.00" height="2.05" fill="#b09070" />
<rect x="239.20" y="644.50" width="20.00" height="2.35" fill="#7090a8" />
<rect x="239.20" y="646.50" width="20.00" height="1.65" fill="#e0c850" />
<rect x="239.20" y="647.80" width="20.00" height="1.05" fill="#a08060" />
<rect x="239.20" y="648.50" width="20.00" height="1.65" fill="#e0c850" />
<rect x="239.20" y="649.80" width="20.00" height="2.05" fill="#60a890" />
<rect x="239.20" y="651.50" width="20.00" height="1.85" fill="#4a3a80" />
<rect x="239.20" y="653.00" width="20.00" height="1.85" fill="#9a3a90" />
<rect x="239.20" y="654.50" width="20.00" height="2.35" fill="#50a0a0" />
<rect x="239.20" y="656.50" width="20.00" height="1.15" fill="#d09050" />
<rect x="239.20" y="657.30" width="20.00" height="1.05" fill="#d02a40" />
<rect x="239.20" y="658.00" width="20.00" height="1.95" fill="#d09050" />
<rect x="239.20" y="659.60" width="20.00" height="1.05" fill="#9a3a90" />
<rect x="239.20" y="660.30" width="20.00" height="1.15" fill="#d09050" />
<rect x="239.20" y="661.10" width="20.00" height="1.60" fill="#50a8a0" />
<rect x="239.20" y="662.35" width="20.00" height="1.05" fill="#c8703a" />
<rect x="239.20" y="663.05" width="20.00" height="1.60" fill="#50a8a0" />
<rect x="239.20" y="664.30" width="20.00" height="2.05" fill="#c85040" />
<rect x="239.20" y="666.00" width="20.00" height="1.85" fill="#a0a060" />
<rect x="239.20" y="667.50" width="20.00" height="1.05" fill="#70b040" />
<rect x="239.20" y="668.20" width="20.00" height="1.85" fill="#a0a060" />
<rect x="239.20" y="669.70" width="20.00" height="1.60" fill="#a04a60" />
<rect x="239.20" y="670.95" width="20.00" height="1.05" fill="#60b090" />
<rect x="239.20" y="671.65" width="20.00" height="1.60" fill="#a04a60" />
<rect x="239.20" y="672.90" width="20.00" height="1.35" fill="#d8c840" />
<rect x="239.20" y="673.90" width="20.00" height="1.05" fill="#4a3a80" />
<rect x="239.20" y="674.60" width="20.00" height="1.35" fill="#d8c840" />
<rect x="239.20" y="675.60" width="20.00" height="2.25" fill="#a08060" />
<rect x="239.20" y="677.50" width="20.00" height="2.35" fill="#90a050" />
<rect x="239.20" y="679.50" width="20.00" height="1.17" fill="#d02a40" />
<rect x="239.20" y="680.32" width="20.00" height="1.05" fill="#303a70" />
<rect x="239.20" y="681.02" width="20.00" height="2.00" fill="#d02a40" />
<rect x="239.20" y="682.68" width="20.00" height="1.05" fill="#a08a50" />
<rect x="239.20" y="683.38" width="20.00" height="1.17" fill="#d02a40" />
<rect x="239.20" y="684.20" width="20.00" height="1.15" fill="#c09070" />
<rect x="239.20" y="685.00" width="20.00" height="1.05" fill="#9a3a90" />
<rect x="239.20" y="685.70" width="20.00" height="1.15" fill="#c09070" />
<rect x="239.20" y="686.50" width="20.00" height="2.05" fill="#a09080" />
<rect x="239.20" y="688.20" width="20.00" height="1.05" fill="#d83040" />
<rect x="239.20" y="688.90" width="20.00" height="2.05" fill="#a09080" />
<rect x="239.20" y="690.60" width="20.00" height="0.70" fill="#a09080" />
<rect x="267.00" y="575.20" width="20.00" height="1.65" fill="#708a40" />
<rect x="267.00" y="576.50" width="20.00" height="1.05" fill="#e0c070" />
<rect x="267.00" y="577.20" width="20.00" height="1.65" fill="#708a40" />
<rect x="267.00" y="578.50" width="20.00" height="1.85" fill="#8090a8" />
<rect x="267.00" y="580.00" width="20.00" height="1.25" fill="#8a2a80" />
<rect x="267.00" y="580.90" width="20.00" height="1.05" fill="#90905a" />
<rect x="267.00" y="581.60" width="20.00" height="1.25" fill="#8a2a80" />
<rect x="267.00" y="582.50" width="20.00" height="1.85" fill="#d08080" />
<rect x="267.00" y="584.00" width="20.00" height="1.25" fill="#80a050" />
<rect x="267.00" y="584.90" width="20.00" height="1.05" fill="#9070a0" />
<rect x="267.00" y="585.60" width="20.00" height="1.25" fill="#80a050" />
<rect x="267.00" y="586.50" width="20.00" height="1.85" fill="#d09040" />
<rect x="267.00" y="588.00" width="20.00" height="1.95" fill="#5a4aa0" />
<rect x="267.00" y="589.60" width="20.00" height="1.05" fill="#906040" />
<rect x="267.00" y="590.30" width="20.00" height="1.95" fill="#5a4aa0" />
<rect x="267.00" y="591.90" width="20.00" height="1.95" fill="#906040" />
<rect x="267.00" y="593.50" width="20.00" height="2.35" fill="#50a898" />
<rect x="267.00" y="595.50" width="20.00" height="1.70" fill="#4a80b8" />
<rect x="267.00" y="596.85" width="20.00" height="1.05" fill="#d09040" />
<rect x="267.00" y="597.55" width="20.00" height="1.70" fill="#4a80b8" />
<rect x="267.00" y="598.90" width="20.00" height="2.45" fill="#c0a070" />
<rect x="267.00" y="601.00" width="20.00" height="1.85" fill="#e0c070" />
<rect x="267.00" y="602.50" width="20.00" height="2.35" fill="#607050" />
<rect x="267.00" y="604.50" width="20.00" height="2.35" fill="#9080a0" />
<rect x="267.00" y="606.50" width="20.00" height="2.35" fill="#c06060" />
<rect x="267.00" y="608.50" width="20.00" height="2.35" fill="#c0a070" />
<rect x="267.00" y="610.50" width="20.00" height="2.35" fill="#d09050" />
<rect x="267.00" y="612.50" width="20.00" height="2.35" fill="#508870" />
<rect x="267.00" y="614.50" width="20.00" height="2.35" fill="#a04040" />
<rect x="267.00" y="616.50" width="20.00" height="2.35" fill="#c0a860" />
<rect x="267.00" y="618.50" width="20.00" height="1.25" fill="#9070a0" />
<rect x="267.00" y="619.40" width="20.00" height="1.05" fill="#c05a60" />
<rect x="267.00" y="620.10" width="20.00" height="1.25" fill="#9070a0" />
<rect x="267.00" y="621.00" width="20.00" height="2.35" fill="#90905a" />
<rect x="267.00" y="623.00" width="20.00" height="2.35" fill="#c08070" />
<rect x="267.00" y="625.00" width="20.00" height="1.75" fill="#6060b0" />
<rect x="267.00" y="626.40" width="20.00" height="1.05" fill="#d09050" />
<rect x="267.00" y="627.10" width="20.00" height="1.75" fill="#6060b0" />
<rect x="267.00" y="628.50" width="20.00" height="1.37" fill="#c0a860" />
<rect x="267.00" y="629.52" width="20.00" height="1.05" fill="#7a70a8" />
<rect x="267.00" y="630.23" width="20.00" height="2.40" fill="#c0a860" />
<rect x="267.00" y="632.27" width="20.00" height="1.05" fill="#6a9a90" />
<rect x="267.00" y="632.98" width="20.00" height="1.37" fill="#c0a860" />
<rect x="267.00" y="634.00" width="20.00" height="2.35" fill="#60a890" />
<rect x="267.00" y="636.00" width="20.00" height="1.25" fill="#70a070" />
<rect x="267.00" y="636.90" width="20.00" height="1.05" fill="#9080a0" />
<rect x="267.00" y="637.60" width="20.00" height="1.25" fill="#70a070" />
<rect x="267.00" y="638.50" width="20.00" height="1.25" fill="#907aa8" />
<rect x="267.00" y="639.40" width="20.00" height="1.05" fill="#c06060" />
<rect x="267.00" y="640.10" width="20.00" height="1.25" fill="#907aa8" />
<rect x="267.00" y="641.00" width="20.00" height="2.35" fill="#a0a060" />
<rect x="267.00" y="643.00" width="20.00" height="1.50" fill="#6a6ab0" />
<rect x="267.00" y="644.15" width="20.00" height="1.05" fill="#607050" />
<rect x="267.00" y="644.85" width="20.00" height="1.50" fill="#6a6ab0" />
<rect x="267.00" y="646.00" width="20.00" height="2.35" fill="#6a9a90" />
<rect x="267.00" y="648.00" width="20.00" height="2.35" fill="#90a060" />
<rect x="267.00" y="650.00" width="20.00" height="1.25" fill="#b0c050" />
<rect x="267.00" y="650.90" width="20.00" height="1.05" fill="#80a050" />
<rect x="267.00" y="651.60" width="20.00" height="1.25" fill="#b0c050" />
<rect x="267.00" y="652.50" width="20.00" height="2.35" fill="#a08a50" />
<rect x="267.00" y="654.50" width="20.00" height="1.25" fill="#7a70a8" />
<rect x="267.00" y="655.40" width="20.00" height="1.05" fill="#d09040" />
<rect x="267.00" y="656.10" width="20.00" height="1.25" fill="#7a70a8" />
<rect x="267.00" y="657.00" width="20.00" height="1.25" fill="#c05a60" />
<rect x="267.00" y="657.90" width="20.00" height="1.05" fill="#607050" />
<rect x="267.00" y="658.60" width="20.00" height="1.25" fill="#c05a60" />
<rect x="267.00" y="659.50" width="20.00" height="2.35" fill="#b0a070" />
<rect x="267.00" y="661.50" width="20.00" height="1.25" fill="#80a050" />
<rect x="267.00" y="662.40" width="20.00" height="1.05" fill="#8a3a90" />
<rect x="267.00" y="663.10" width="20.00" height="1.25" fill="#80a050" />
<rect x="267.00" y="664.00" width="20.00" height="2.35" fill="#9a6a90" />
<rect x="267.00" y="666.00" width="20.00" height="2.35" fill="#60a0a0" />
<rect x="267.00" y="668.00" width="20.00" height="2.35" fill="#90a050" />
<rect x="267.00" y="670.00" width="20.00" height="2.35" fill="#a05040" />
<rect x="267.00" y="672.00" width="20.00" height="1.12" fill="#40a8a0" />
<rect x="267.00" y="672.77" width="20.00" height="1.05" fill="#c05a60" />
<rect x="267.00" y="673.48" width="20.00" height="1.90" fill="#40a8a0" />
<rect x="267.00" y="675.02" width="20.00" height="1.05" fill="#a0a060" />
<rect x="267.00" y="675.73" width="20.00" height="1.12" fill="#40a8a0" />
<rect x="267.00" y="676.50" width="20.00" height="1.25" fill="#b0a070" />
<rect x="267.00" y="677.40" width="20.00" height="1.05" fill="#9a6a90" />
<rect x="267.00" y="678.10" width="20.00" height="1.25" fill="#b0a070" />
<rect x="267.00" y="679.00" width="20.00" height="1.25" fill="#8a3a90" />
<rect x="267.00" y="679.90" width="20.00" height="1.05" fill="#60b0b8" />
<rect x="267.00" y="680.60" width="20.00" height="1.25" fill="#8a3a90" />
<rect x="267.00" y="681.50" width="20.00" height="1.25" fill="#60b0b8" />
<rect x="267.00" y="682.40" width="20.00" height="1.05" fill="#7a70a8" />
<rect x="267.00" y="683.10" width="20.00" height="1.25" fill="#60b0b8" />
<rect x="267.00" y="684.00" width="20.00" height="1.25" fill="#6a9080" />
<rect x="267.00" y="684.90" width="20.00" height="1.05" fill="#80a050" />
<rect x="267.00" y="685.60" width="20.00" height="1.25" fill="#6a9080" />
<rect x="267.00" y="686.50" width="20.00" height="2.05" fill="#7a8060" />
<rect x="267.00" y="688.20" width="20.00" height="1.05" fill="#5a4aa0" />
<rect x="267.00" y="688.90" width="20.00" height="2.05" fill="#7a8060" />
<rect x="267.00" y="690.60" width="20.00" height="0.70" fill="#7a8060" />
<rect x="304.20" y="575.20" width="20.80" height="1.65" fill="#c0d030" />
<rect x="304.20" y="576.50" width="20.80" height="1.85" fill="#6a9a90" />
<rect x="304.20" y="578.00" width="20.80" height="1.85" fill="#50a890" />
<rect x="304.20" y="579.50" width="20.80" height="1.35" fill="#4a50a0" />
<rect x="304.20" y="580.50" width="20.80" height="1.05" fill="#8a3a98" />
<rect x="304.20" y="581.20" width="20.80" height="1.35" fill="#4a50a0" />
<rect x="304.20" y="582.20" width="20.80" height="2.15" fill="#6080b0" />
<rect x="304.20" y="584.00" width="20.80" height="1.55" fill="#90b850" />
<rect x="304.20" y="585.20" width="20.80" height="1.05" fill="#d85a30" />
<rect x="304.20" y="585.90" width="20.80" height="1.55" fill="#90b850" />
<rect x="304.20" y="587.10" width="20.80" height="2.25" fill="#a07090" />
<rect x="304.20" y="589.00" width="20.80" height="1.75" fill="#6a6a40" />
<rect x="304.20" y="590.40" width="20.80" height="1.05" fill="#90b850" />
<rect x="304.20" y="591.10" width="20.80" height="1.75" fill="#6a6a40" />
<rect x="304.20" y="592.50" width="20.80" height="1.85" fill="#d0a090" />
<rect x="304.20" y="594.00" width="20.80" height="1.40" fill="#4a8080" />
<rect x="304.20" y="595.05" width="20.80" height="1.05" fill="#a07090" />
<rect x="304.20" y="595.75" width="20.80" height="1.40" fill="#4a8080" />
<rect x="304.20" y="596.80" width="20.80" height="1.10" fill="#6a9a70" />
<rect x="304.20" y="597.55" width="20.80" height="1.05" fill="#60a890" />
<rect x="304.20" y="598.25" width="20.80" height="1.10" fill="#6a9a70" />
<rect x="304.20" y="599.00" width="20.80" height="1.25" fill="#8a9a40" />
<rect x="304.20" y="599.90" width="20.80" height="1.05" fill="#a05a70" />
<rect x="304.20" y="600.60" width="20.80" height="1.25" fill="#8a9a40" />
<rect x="304.20" y="601.50" width="20.80" height="1.85" fill="#6a90c0" />
<rect x="304.20" y="603.00" width="20.80" height="1.65" fill="#8a3a98" />
<rect x="304.20" y="604.30" width="20.80" height="1.10" fill="#7a3aa0" />
<rect x="304.20" y="605.05" width="20.80" height="1.05" fill="#90b850" />
<rect x="304.20" y="605.75" width="20.80" height="1.10" fill="#7a3aa0" />
<rect x="304.20" y="606.50" width="20.80" height="1.95" fill="#d0a060" />
<rect x="304.20" y="608.10" width="20.80" height="2.25" fill="#8a3a50" />
<rect x="304.20" y="610.00" width="20.80" height="1.65" fill="#a0c878" />
<rect x="304.20" y="611.30" width="20.80" height="2.05" fill="#a05a70" />
<rect x="304.20" y="613.00" width="20.80" height="1.55" fill="#40808a" />
<rect x="304.20" y="614.20" width="20.80" height="1.05" fill="#90b0c8" />
<rect x="304.20" y="614.90" width="20.80" height="1.55" fill="#40808a" />
<rect x="304.20" y="616.10" width="20.80" height="1.70" fill="#90a060" />
<rect x="304.20" y="617.45" width="20.80" height="1.05" fill="#a07090" />
<rect x="304.20" y="618.15" width="20.80" height="1.70" fill="#90a060" />
<rect x="304.20" y="619.50" width="20.80" height="1.55" fill="#d85a30" />
<rect x="304.20" y="620.70" width="20.80" height="1.05" fill="#a0c878" />
<rect x="304.20" y="621.40" width="20.80" height="1.55" fill="#d85a30" />
<rect x="304.20" y="622.60" width="20.80" height="2.25" fill="#6a3a70" />
<rect x="304.20" y="624.50" width="20.80" height="2.35" fill="#c09080" />
<rect x="304.20" y="626.50" width="20.80" height="2.35" fill="#3a5a80" />
<rect x="304.20" y="628.50" width="20.80" height="1.25" fill="#6a9898" />
<rect x="304.20" y="629.40" width="20.80" height="1.05" fill="#d08060" />
<rect x="304.20" y="630.10" width="20.80" height="1.25" fill="#6a9898" />
<rect x="304.20" y="631.00" width="20.80" height="1.50" fill="#9a70a0" />
<rect x="304.20" y="632.15" width="20.80" height="1.05" fill="#60a898" />
<rect x="304.20" y="632.85" width="20.80" height="1.50" fill="#9a70a0" />
<rect x="304.20" y="634.00" width="20.80" height="1.55" fill="#4a90a8" />
<rect x="304.20" y="635.20" width="20.80" height="1.35" fill="#d08060" />
<rect x="304.20" y="636.20" width="20.80" height="1.05" fill="#6a4a40" />
<rect x="304.20" y="636.90" width="20.80" height="1.35" fill="#d08060" />
<rect x="304.20" y="637.90" width="20.80" height="1.95" fill="#a05a70" />
<rect x="304.20" y="639.50" width="20.80" height="1.85" fill="#80a080" />
<rect x="304.20" y="641.00" width="20.80" height="1.52" fill="#6090b8" />
<rect x="304.20" y="642.17" width="20.80" height="1.05" fill="#6a6a40" />
<rect x="304.20" y="642.88" width="20.80" height="2.70" fill="#6090b8" />
<rect x="304.20" y="645.23" width="20.80" height="1.05" fill="#6a3a70" />
<rect x="304.20" y="645.93" width="20.80" height="1.52" fill="#6090b8" />
<rect x="304.20" y="647.10" width="20.80" height="1.35" fill="#4a98b0" />
<rect x="304.20" y="648.10" width="20.80" height="1.05" fill="#d09080" />
<rect x="304.20" y="648.80" width="20.80" height="2.35" fill="#4a98b0" />
<rect x="304.20" y="650.80" width="20.80" height="1.05" fill="#4a50a0" />
<rect x="304.20" y="651.50" width="20.80" height="1.35" fill="#4a98b0" />
<rect x="304.20" y="652.50" width="20.80" height="1.60" fill="#d09080" />
<rect x="304.20" y="653.75" width="20.80" height="1.05" fill="#6a9898" />
<rect x="304.20" y="654.45" width="20.80" height="1.60" fill="#d09080" />
<rect x="304.20" y="655.70" width="20.80" height="1.20" fill="#90b0c8" />
<rect x="304.20" y="656.55" width="20.80" height="1.05" fill="#b0a080" />
<rect x="304.20" y="657.25" width="20.80" height="2.05" fill="#90b0c8" />
<rect x="304.20" y="658.95" width="20.80" height="1.05" fill="#70b070" />
<rect x="304.20" y="659.65" width="20.80" height="1.20" fill="#90b0c8" />
<rect x="304.20" y="660.50" width="20.80" height="1.35" fill="#6a4a40" />
<rect x="304.20" y="661.50" width="20.80" height="1.40" fill="#60a890" />
<rect x="304.20" y="662.55" width="20.80" height="1.05" fill="#d09080" />
<rect x="304.20" y="663.25" width="20.80" height="1.40" fill="#60a890" />
<rect x="304.20" y="664.30" width="20.80" height="1.90" fill="#b0a080" />
<rect x="304.20" y="665.85" width="20.80" height="1.05" fill="#d0a060" />
<rect x="304.20" y="666.55" width="20.80" height="1.90" fill="#b0a080" />
<rect x="304.20" y="668.10" width="20.80" height="1.60" fill="#70b070" />
<rect x="304.20" y="669.35" width="20.80" height="1.05" fill="#7a3aa0" />
<rect x="304.20" y="670.05" width="20.80" height="1.60" fill="#70b070" />
<rect x="304.20" y="671.30" width="20.80" height="2.45" fill="#a06070" />
<rect x="304.20" y="673.40" width="20.80" height="1.23" fill="#60a898" />
<rect x="304.20" y="674.27" width="20.80" height="1.05" fill="#60a890" />
<rect x="304.20" y="674.98" width="20.80" height="2.10" fill="#60a898" />
<rect x="304.20" y="676.72" width="20.80" height="1.05" fill="#80a080" />
<rect x="304.20" y="677.42" width="20.80" height="1.23" fill="#60a898" />
<rect x="304.20" y="678.30" width="20.80" height="1.60" fill="#d0c060" />
<rect x="304.20" y="679.55" width="20.80" height="1.05" fill="#6a9898" />
<rect x="304.20" y="680.25" width="20.80" height="1.60" fill="#d0c060" />
<rect x="304.20" y="681.50" width="20.80" height="1.90" fill="#a090c0" />
<rect x="304.20" y="683.05" width="20.80" height="1.05" fill="#d0a090" />
<rect x="304.20" y="683.75" width="20.80" height="1.90" fill="#a090c0" />
<rect x="304.20" y="685.30" width="20.80" height="1.33" fill="#b0b090" />
<rect x="304.20" y="686.27" width="20.80" height="1.05" fill="#3a5a80" />
<rect x="304.20" y="686.98" width="20.80" height="2.30" fill="#b0b090" />
<rect x="304.20" y="688.92" width="20.80" height="1.05" fill="#c0d030" />
<rect x="304.20" y="689.62" width="20.80" height="1.33" fill="#b0b090" />
<rect x="304.20" y="690.60" width="20.80" height="0.70" fill="#b0b090" />
<rect x="332.00" y="575.20" width="20.50" height="2.55" fill="#40b0e0" />
<rect x="332.00" y="577.40" width="20.50" height="1.35" fill="#8a3a98" />
<rect x="332.00" y="578.40" width="20.50" height="1.05" fill="#5a2a70" />
<rect x="332.00" y="579.10" width="20.50" height="1.35" fill="#8a3a98" />
<rect x="332.00" y="580.10" width="20.50" height="2.45" fill="#5a2a70" />
<rect x="332.00" y="582.20" width="20.50" height="2.15" fill="#50a8a8" />
<rect x="332.00" y="584.00" width="20.50" height="1.05" fill="#50a8a8" />
<rect x="332.00" y="584.70" width="20.50" height="2.15" fill="#50a8a8" />
<rect x="332.00" y="586.50" width="20.50" height="1.25" fill="#a0a060" />
<rect x="332.00" y="587.40" width="20.50" height="1.05" fill="#a08898" />
<rect x="332.00" y="588.10" width="20.50" height="1.25" fill="#a0a060" />
<rect x="332.00" y="589.00" width="20.50" height="1.85" fill="#a06050" />
<rect x="332.00" y="590.50" width="20.50" height="2.05" fill="#a09a40" />
<rect x="332.00" y="592.20" width="20.50" height="1.05" fill="#90a870" />
<rect x="332.00" y="592.90" width="20.50" height="2.05" fill="#a09a40" />
<rect x="332.00" y="594.60" width="20.50" height="1.75" fill="#d08060" />
<rect x="332.00" y="596.00" width="20.50" height="1.20" fill="#d83a40" />
<rect x="332.00" y="596.85" width="20.50" height="1.05" fill="#5a2a70" />
<rect x="332.00" y="597.55" width="20.50" height="1.20" fill="#d83a40" />
<rect x="332.00" y="598.40" width="20.50" height="2.45" fill="#7a3aa0" />
<rect x="332.00" y="600.50" width="20.50" height="1.23" fill="#58b050" />
<rect x="332.00" y="601.38" width="20.50" height="1.05" fill="#b0c040" />
<rect x="332.00" y="602.08" width="20.50" height="2.10" fill="#58b050" />
<rect x="332.00" y="603.82" width="20.50" height="1.05" fill="#d0c040" />
<rect x="332.00" y="604.52" width="20.50" height="1.23" fill="#58b050" />
<rect x="332.00" y="605.40" width="20.50" height="1.60" fill="#9a1a70" />
<rect x="332.00" y="606.65" width="20.50" height="1.05" fill="#d08060" />
<rect x="332.00" y="607.35" width="20.50" height="1.60" fill="#9a1a70" />
<rect x="332.00" y="608.60" width="20.50" height="1.35" fill="#d85040" />
<rect x="332.00" y="609.60" width="20.50" height="1.05" fill="#8a3a90" />
<rect x="332.00" y="610.30" width="20.50" height="1.35" fill="#d85040" />
<rect x="332.00" y="611.30" width="20.50" height="1.10" fill="#7a6aa8" />
<rect x="332.00" y="612.05" width="20.50" height="1.05" fill="#707040" />
<rect x="332.00" y="612.75" width="20.50" height="1.10" fill="#7a6aa8" />
<rect x="332.00" y="613.50" width="20.50" height="1.30" fill="#c05040" />
<rect x="332.00" y="614.45" width="20.50" height="1.05" fill="#9a5aa0" />
<rect x="332.00" y="615.15" width="20.50" height="1.30" fill="#c05040" />
<rect x="332.00" y="616.10" width="20.50" height="1.90" fill="#60b040" />
<rect x="332.00" y="617.65" width="20.50" height="1.05" fill="#a08898" />
<rect x="332.00" y="618.35" width="20.50" height="1.90" fill="#60b040" />
<rect x="332.00" y="619.90" width="20.50" height="1.35" fill="#8a3a90" />
<rect x="332.00" y="620.90" width="20.50" height="1.05" fill="#50a8a8" />
<rect x="332.00" y="621.60" width="20.50" height="1.35" fill="#8a3a90" />
<rect x="332.00" y="622.60" width="20.50" height="1.60" fill="#90a040" />
<rect x="332.00" y="623.85" width="20.50" height="1.05" fill="#a080a0" />
<rect x="332.00" y="624.55" width="20.50" height="1.60" fill="#90a040" />
<rect x="332.00" y="625.80" width="20.50" height="1.10" fill="#c09070" />
<rect x="332.00" y="626.55" width="20.50" height="1.05" fill="#c0b060" />
<rect x="332.00" y="627.25" width="20.50" height="1.10" fill="#c09070" />
<rect x="332.00" y="628.00" width="20.50" height="2.35" fill="#9aa050" />
<rect x="332.00" y="630.00" width="20.50" height="2.10" fill="#d84a40" />
<rect x="332.00" y="631.75" width="20.50" height="1.05" fill="#a080a0" />
<rect x="332.00" y="632.45" width="20.50" height="2.10" fill="#d84a40" />
<rect x="332.00" y="634.20" width="20.50" height="1.65" fill="#4a4aa0" />
<rect x="332.00" y="635.50" width="20.50" height="2.25" fill="#b0c040" />
<rect x="332.00" y="637.40" width="20.50" height="2.45" fill="#7a3a40" />
<rect x="332.00" y="639.50" width="20.50" height="1.85" fill="#d08070" />
<rect x="332.00" y="641.00" width="20.50" height="1.40" fill="#c01a50" />
<rect x="332.00" y="642.05" width="20.50" height="1.05" fill="#a09a40" />
<rect x="332.00" y="642.75" width="20.50" height="1.40" fill="#c01a50" />
<rect x="332.00" y="643.80" width="20.50" height="1.10" fill="#90a040" />
<rect x="332.00" y="644.55" width="20.50" height="1.05" fill="#7a3aa0" />
<rect x="332.00" y="645.25" width="20.50" height="1.10" fill="#90a040" />
<rect x="332.00" y="646.00" width="20.50" height="2.45" fill="#d0c040" />
<rect x="332.00" y="648.10" width="20.50" height="2.25" fill="#60a880" />
<rect x="332.00" y="650.00" width="20.50" height="1.75" fill="#7a80d0" />
<rect x="332.00" y="651.40" width="20.50" height="1.05" fill="#9aa050" />
<rect x="332.00" y="652.10" width="20.50" height="1.75" fill="#7a80d0" />
<rect x="332.00" y="653.50" width="20.50" height="1.10" fill="#c0b060" />
<rect x="332.00" y="654.25" width="20.50" height="1.05" fill="#c08a80" />
<rect x="332.00" y="654.95" width="20.50" height="1.10" fill="#c0b060" />
<rect x="332.00" y="655.70" width="20.50" height="1.85" fill="#a08898" />
<rect x="332.00" y="657.20" width="20.50" height="1.05" fill="#a06050" />
<rect x="332.00" y="657.90" width="20.50" height="1.85" fill="#a08898" />
<rect x="332.00" y="659.40" width="20.50" height="1.95" fill="#707040" />
<rect x="332.00" y="661.00" width="20.50" height="1.85" fill="#c08a80" />
<rect x="332.00" y="662.50" width="20.50" height="2.35" fill="#b06070" />
<rect x="332.00" y="664.50" width="20.50" height="2.25" fill="#60b070" />
<rect x="332.00" y="666.40" width="20.50" height="2.45" fill="#9a5aa0" />
<rect x="332.00" y="668.50" width="20.50" height="1.25" fill="#70a0a0" />
<rect x="332.00" y="669.40" width="20.50" height="1.05" fill="#8a3a98" />
<rect x="332.00" y="670.10" width="20.50" height="1.25" fill="#70a0a0" />
<rect x="332.00" y="671.00" width="20.50" height="2.00" fill="#c09080" />
<rect x="332.00" y="672.65" width="20.50" height="1.05" fill="#a08898" />
<rect x="332.00" y="673.35" width="20.50" height="2.00" fill="#c09080" />
<rect x="332.00" y="675.00" width="20.50" height="1.50" fill="#b0a070" />
<rect x="332.00" y="676.15" width="20.50" height="1.05" fill="#b0c040" />
<rect x="332.00" y="676.85" width="20.50" height="1.50" fill="#b0a070" />
<rect x="332.00" y="678.00" width="20.50" height="1.50" fill="#90a870" />
<rect x="332.00" y="679.15" width="20.50" height="1.05" fill="#90a040" />
<rect x="332.00" y="679.85" width="20.50" height="1.50" fill="#90a870" />
<rect x="332.00" y="681.00" width="20.50" height="1.50" fill="#a080a0" />
<rect x="332.00" y="682.15" width="20.50" height="1.05" fill="#9a5aa0" />
<rect x="332.00" y="682.85" width="20.50" height="1.50" fill="#a080a0" />
<rect x="332.00" y="684.00" width="20.50" height="1.50" fill="#7090b0" />
<rect x="332.00" y="685.15" width="20.50" height="1.05" fill="#40b0e0" />
<rect x="332.00" y="685.85" width="20.50" height="1.50" fill="#7090b0" />
<rect x="332.00" y="687.00" width="20.50" height="1.80" fill="#b0b090" />
<rect x="332.00" y="688.45" width="20.50" height="1.05" fill="#50a8a8" />
<rect x="332.00" y="689.15" width="20.50" height="1.80" fill="#b0b090" />
<rect x="332.00" y="690.60" width="20.50" height="0.70" fill="#b0b090" />
<rect x="360.00" y="575.20" width="20.00" height="47.15" fill="#e8892a" />
<rect x="360.00" y="622.00" width="20.00" height="7.85" fill="#62b042" />
<rect x="360.00" y="629.50" width="20.00" height="4.65" fill="#7a2a92" />
<rect x="360.00" y="633.80" width="20.00" height="6.55" fill="#52b2b2" />
<rect x="360.00" y="640.00" width="20.00" height="1.65" fill="#42bada" />
<rect x="360.00" y="641.30" width="20.00" height="3.55" fill="#e23222" />
<rect x="360.00" y="644.50" width="20.00" height="5.85" fill="#62b042" />
<rect x="360.00" y="650.00" width="20.00" height="2.35" fill="#e2d22a" />
<rect x="360.00" y="652.00" width="20.00" height="3.35" fill="#42aad2" />
<rect x="360.00" y="655.00" width="20.00" height="2.85" fill="#5a2a90" />
<rect x="360.00" y="657.50" width="20.00" height="9.15" fill="#62b042" />
<rect x="360.00" y="666.30" width="20.00" height="2.35" fill="#dad222" />
<rect x="360.00" y="668.30" width="20.00" height="11.55" fill="#62b032" />
<rect x="360.00" y="679.50" width="20.00" height="2.15" fill="#9a3a90" />
<rect x="360.00" y="681.30" width="20.00" height="2.85" fill="#62b042" />
<rect x="360.00" y="683.80" width="20.00" height="7.15" fill="#dad228" />
<rect x="360.00" y="690.60" width="20.00" height="0.70" fill="#dad228" />
<rect x="387.50" y="575.20" width="20.50" height="1.35" fill="#60b040" />
<rect x="387.50" y="576.20" width="20.50" height="1.05" fill="#c07080" />
<rect x="387.50" y="576.90" width="20.50" height="1.35" fill="#60b040" />
<rect x="387.50" y="577.90" width="20.50" height="1.95" fill="#5a80b0" />
<rect x="387.50" y="579.50" width="20.50" height="1.85" fill="#504a50" />
<rect x="387.50" y="581.00" width="20.50" height="2.35" fill="#c0a0b0" />
<rect x="387.50" y="583.00" width="20.50" height="2.35" fill="#5a3a70" />
<rect x="387.50" y="585.00" width="20.50" height="1.85" fill="#d0c060" />
<rect x="387.50" y="586.50" width="20.50" height="1.75" fill="#807090" />
<rect x="387.50" y="587.90" width="20.50" height="1.05" fill="#a04a90" />
<rect x="387.50" y="588.60" width="20.50" height="1.75" fill="#807090" />
<rect x="387.50" y="590.00" width="20.50" height="1.50" fill="#8a8a70" />
<rect x="387.50" y="591.15" width="20.50" height="1.05" fill="#5a80b0" />
<rect x="387.50" y="591.85" width="20.50" height="1.50" fill="#8a8a70" />
<rect x="387.50" y="593.00" width="20.50" height="1.85" fill="#403a60" />
<rect x="387.50" y="594.50" width="20.50" height="1.85" fill="#a04a90" />
<rect x="387.50" y="596.00" width="20.50" height="2.35" fill="#b05090" />
<rect x="387.50" y="598.00" width="20.50" height="2.35" fill="#c09080" />
<rect x="387.50" y="600.00" width="20.50" height="1.85" fill="#6a3a40" />
<rect x="387.50" y="601.50" width="20.50" height="1.40" fill="#d06070" />
<rect x="387.50" y="602.55" width="20.50" height="1.05" fill="#a8a890" />
<rect x="387.50" y="603.25" width="20.50" height="1.40" fill="#d06070" />
<rect x="387.50" y="604.30" width="20.50" height="1.10" fill="#9a5a90" />
<rect x="387.50" y="605.05" width="20.50" height="1.05" fill="#60b040" />
<rect x="387.50" y="605.75" width="20.50" height="1.10" fill="#9a5a90" />
<rect x="387.50" y="606.50" width="20.50" height="2.35" fill="#80a0b0" />
<rect x="387.50" y="608.50" width="20.50" height="2.35" fill="#8a5a90" />
<rect x="387.50" y="610.50" width="20.50" height="2.35" fill="#d0b060" />
<rect x="387.50" y="612.50" width="20.50" height="2.35" fill="#a05a70" />
<rect x="387.50" y="614.50" width="20.50" height="2.35" fill="#9070a8" />
<rect x="387.50" y="616.50" width="20.50" height="2.35" fill="#d0a060" />
<rect x="387.50" y="618.50" width="20.50" height="1.25" fill="#9a5a90" />
<rect x="387.50" y="619.40" width="20.50" height="1.05" fill="#80a0b0" />
<rect x="387.50" y="620.10" width="20.50" height="1.25" fill="#9a5a90" />
<rect x="387.50" y="621.00" width="20.50" height="2.35" fill="#b0a870" />
<rect x="387.50" y="623.00" width="20.50" height="1.50" fill="#a070a0" />
<rect x="387.50" y="624.15" width="20.50" height="1.05" fill="#d0c060" />
<rect x="387.50" y="624.85" width="20.50" height="1.50" fill="#a070a0" />
<rect x="387.50" y="626.00" width="20.50" height="1.25" fill="#a0a080" />
<rect x="387.50" y="626.90" width="20.50" height="1.05" fill="#a0b080" />
<rect x="387.50" y="627.60" width="20.50" height="1.25" fill="#a0a080" />
<rect x="387.50" y="628.50" width="20.50" height="1.25" fill="#90a070" />
<rect x="387.50" y="629.40" width="20.50" height="1.05" fill="#b0a080" />
<rect x="387.50" y="630.10" width="20.50" height="1.25" fill="#90a070" />
<rect x="387.50" y="631.00" width="20.50" height="1.50" fill="#b0a870" />
<rect x="387.50" y="632.15" width="20.50" height="1.05" fill="#8a8a70" />
<rect x="387.50" y="632.85" width="20.50" height="1.50" fill="#b0a870" />
<rect x="387.50" y="634.00" width="20.50" height="2.35" fill="#9a7aa8" />
<rect x="387.50" y="636.00" width="20.50" height="1.25" fill="#c08090" />
<rect x="387.50" y="636.90" width="20.50" height="1.05" fill="#a0a080" />
<rect x="387.50" y="637.60" width="20.50" height="1.25" fill="#c08090" />
<rect x="387.50" y="638.50" width="20.50" height="1.25" fill="#b0a080" />
<rect x="387.50" y="639.40" width="20.50" height="1.05" fill="#c07080" />
<rect x="387.50" y="640.10" width="20.50" height="1.25" fill="#b0a080" />
<rect x="387.50" y="641.00" width="20.50" height="2.35" fill="#c07080" />
<rect x="387.50" y="643.00" width="20.50" height="1.25" fill="#90a0a0" />
<rect x="387.50" y="643.90" width="20.50" height="1.05" fill="#807090" />
<rect x="387.50" y="644.60" width="20.50" height="1.25" fill="#90a0a0" />
<rect x="387.50" y="645.50" width="20.50" height="1.25" fill="#70a890" />
<rect x="387.50" y="646.40" width="20.50" height="1.05" fill="#403a60" />
<rect x="387.50" y="647.10" width="20.50" height="1.25" fill="#70a890" />
<rect x="387.50" y="648.00" width="20.50" height="1.50" fill="#60a8a8" />
<rect x="387.50" y="649.15" width="20.50" height="1.05" fill="#80a0b0" />
<rect x="387.50" y="649.85" width="20.50" height="1.50" fill="#60a8a8" />
<rect x="387.50" y="651.00" width="20.50" height="2.35" fill="#6a90b0" />
<rect x="387.50" y="653.00" width="20.50" height="1.25" fill="#7070b8" />
<rect x="387.50" y="653.90" width="20.50" height="1.05" fill="#8a5a90" />
<rect x="387.50" y="654.60" width="20.50" height="1.25" fill="#7070b8" />
<rect x="387.50" y="655.50" width="20.50" height="1.25" fill="#9a70a8" />
<rect x="387.50" y="656.40" width="20.50" height="1.05" fill="#d06070" />
<rect x="387.50" y="657.10" width="20.50" height="1.25" fill="#9a70a8" />
<rect x="387.50" y="658.00" width="20.50" height="1.50" fill="#b08090" />
<rect x="387.50" y="659.15" width="20.50" height="1.05" fill="#d0c060" />
<rect x="387.50" y="659.85" width="20.50" height="1.50" fill="#b08090" />
<rect x="387.50" y="661.00" width="20.50" height="1.50" fill="#9a70a0" />
<rect x="387.50" y="662.15" width="20.50" height="1.05" fill="#b05090" />
<rect x="387.50" y="662.85" width="20.50" height="1.50" fill="#9a70a0" />
<rect x="387.50" y="664.00" width="20.50" height="1.75" fill="#90b070" />
<rect x="387.50" y="665.40" width="20.50" height="1.05" fill="#b05090" />
<rect x="387.50" y="666.10" width="20.50" height="1.75" fill="#90b070" />
<rect x="387.50" y="667.50" width="20.50" height="1.25" fill="#80b070" />
<rect x="387.50" y="668.40" width="20.50" height="1.05" fill="#a04a90" />
<rect x="387.50" y="669.10" width="20.50" height="1.25" fill="#80b070" />
<rect x="387.50" y="670.00" width="20.50" height="1.50" fill="#a08a90" />
<rect x="387.50" y="671.15" width="20.50" height="1.05" fill="#5a80b0" />
<rect x="387.50" y="671.85" width="20.50" height="1.50" fill="#a08a90" />
<rect x="387.50" y="673.00" width="20.50" height="1.50" fill="#a0b080" />
<rect x="387.50" y="674.15" width="20.50" height="1.05" fill="#c0a0b0" />
<rect x="387.50" y="674.85" width="20.50" height="1.50" fill="#a0b080" />
<rect x="387.50" y="676.00" width="20.50" height="2.00" fill="#9088a0" />
<rect x="387.50" y="677.65" width="20.50" height="1.05" fill="#9a5a90" />
<rect x="387.50" y="678.35" width="20.50" height="2.00" fill="#9088a0" />
<rect x="387.50" y="680.00" width="20.50" height="2.00" fill="#a8a890" />
<rect x="387.50" y="681.65" width="20.50" height="1.05" fill="#a0b080" />
<rect x="387.50" y="682.35" width="20.50" height="2.00" fill="#a8a890" />
<rect x="387.50" y="684.00" width="20.50" height="1.10" fill="#9a90b8" />
<rect x="387.50" y="684.75" width="20.50" height="1.05" fill="#70a890" />
<rect x="387.50" y="685.45" width="20.50" height="1.85" fill="#9a90b8" />
<rect x="387.50" y="686.95" width="20.50" height="1.05" fill="#a0a080" />
<rect x="387.50" y="687.65" width="20.50" height="1.85" fill="#9a90b8" />
<rect x="387.50" y="689.15" width="20.50" height="1.05" fill="#9a70a8" />
<rect x="387.50" y="689.85" width="20.50" height="1.10" fill="#9a90b8" />
<rect x="387.50" y="690.60" width="20.50" height="0.70" fill="#9a90b8" />
<rect x="415.80" y="575.20" width="20.00" height="2.15" fill="#e0b060" />
<rect x="415.80" y="577.00" width="20.00" height="1.25" fill="#70b070" />
<rect x="415.80" y="577.90" width="20.00" height="1.05" fill="#b0b080" />
<rect x="415.80" y="578.60" width="20.00" height="1.25" fill="#70b070" />
<rect x="415.80" y="579.50" width="20.00" height="1.85" fill="#7a8a60" />
<rect x="415.80" y="581.00" width="20.00" height="1.25" fill="#c85a40" />
<rect x="415.80" y="581.90" width="20.00" height="1.05" fill="#d07080" />
<rect x="415.80" y="582.60" width="20.00" height="1.25" fill="#c85a40" />
<rect x="415.80" y="583.50" width="20.00" height="1.50" fill="#c06a70" />
<rect x="415.80" y="584.65" width="20.00" height="1.05" fill="#a070a0" />
<rect x="415.80" y="585.35" width="20.00" height="1.50" fill="#c06a70" />
<rect x="415.80" y="586.50" width="20.00" height="2.35" fill="#8a9a60" />
<rect x="415.80" y="588.50" width="20.00" height="1.25" fill="#60a098" />
<rect x="415.80" y="589.40" width="20.00" height="1.05" fill="#b0a880" />
<rect x="415.80" y="590.10" width="20.00" height="1.25" fill="#60a098" />
<rect x="415.80" y="591.00" width="20.00" height="2.35" fill="#80a070" />
<rect x="415.80" y="593.00" width="20.00" height="2.35" fill="#4a8a80" />
<rect x="415.80" y="595.00" width="20.00" height="1.25" fill="#9a9a60" />
<rect x="415.80" y="595.90" width="20.00" height="1.05" fill="#70b070" />
<rect x="415.80" y="596.60" width="20.00" height="1.25" fill="#9a9a60" />
<rect x="415.80" y="597.50" width="20.00" height="1.25" fill="#8a6aa0" />
<rect x="415.80" y="598.40" width="20.00" height="1.05" fill="#b0b080" />
<rect x="415.80" y="599.10" width="20.00" height="1.25" fill="#8a6aa0" />
<rect x="415.80" y="600.00" width="20.00" height="1.50" fill="#70b070" />
<rect x="415.80" y="601.15" width="20.00" height="1.05" fill="#60a098" />
<rect x="415.80" y="601.85" width="20.00" height="1.50" fill="#70b070" />
<rect x="415.80" y="603.00" width="20.00" height="1.25" fill="#8a5a90" />
<rect x="415.80" y="603.90" width="20.00" height="1.05" fill="#d06070" />
<rect x="415.80" y="604.60" width="20.00" height="1.25" fill="#8a5a90" />
<rect x="415.80" y="605.50" width="20.00" height="2.35" fill="#b0a070" />
<rect x="415.80" y="607.50" width="20.00" height="1.50" fill="#60a8a0" />
<rect x="415.80" y="608.65" width="20.00" height="1.05" fill="#a07090" />
<rect x="415.80" y="609.35" width="20.00" height="1.50" fill="#60a8a0" />
<rect x="415.80" y="610.50" width="20.00" height="1.25" fill="#6a9a90" />
<rect x="415.80" y="611.40" width="20.00" height="1.05" fill="#d07080" />
<rect x="415.80" y="612.10" width="20.00" height="1.25" fill="#6a9a90" />
<rect x="415.80" y="613.00" width="20.00" height="2.35" fill="#a06a80" />
<rect x="415.80" y="615.00" width="20.00" height="2.00" fill="#70b070" />
<rect x="415.80" y="616.65" width="20.00" height="1.05" fill="#8a9a80" />
<rect x="415.80" y="617.35" width="20.00" height="2.00" fill="#70b070" />
<rect x="415.80" y="619.00" width="20.00" height="1.25" fill="#8a9a80" />
<rect x="415.80" y="619.90" width="20.00" height="1.05" fill="#c09880" />
<rect x="415.80" y="620.60" width="20.00" height="1.25" fill="#8a9a80" />
<rect x="415.80" y="621.50" width="20.00" height="1.50" fill="#70b0a0" />
<rect x="415.80" y="622.65" width="20.00" height="1.05" fill="#70b070" />
<rect x="415.80" y="623.35" width="20.00" height="1.50" fill="#70b0a0" />
<rect x="415.80" y="624.50" width="20.00" height="2.35" fill="#c0a080" />
<rect x="415.80" y="626.50" width="20.00" height="1.25" fill="#8a90a8" />
<rect x="415.80" y="627.40" width="20.00" height="1.05" fill="#8a9a80" />
<rect x="415.80" y="628.10" width="20.00" height="1.25" fill="#8a90a8" />
<rect x="415.80" y="629.00" width="20.00" height="1.25" fill="#a0a070" />
<rect x="415.80" y="629.90" width="20.00" height="1.05" fill="#7088b8" />
<rect x="415.80" y="630.60" width="20.00" height="1.25" fill="#a0a070" />
<rect x="415.80" y="631.50" width="20.00" height="1.25" fill="#9a80c0" />
<rect x="415.80" y="632.40" width="20.00" height="1.05" fill="#8a5a90" />
<rect x="415.80" y="633.10" width="20.00" height="1.25" fill="#9a80c0" />
<rect x="415.80" y="634.00" width="20.00" height="2.35" fill="#c0b870" />
<rect x="415.80" y="636.00" width="20.00" height="1.85" fill="#a0a080" />
<rect x="415.80" y="637.50" width="20.00" height="1.25" fill="#d07080" />
<rect x="415.80" y="638.40" width="20.00" height="1.05" fill="#70b070" />
<rect x="415.80" y="639.10" width="20.00" height="1.25" fill="#d07080" />
<rect x="415.80" y="640.00" width="20.00" height="1.75" fill="#a0a870" />
<rect x="415.80" y="641.40" width="20.00" height="1.05" fill="#60a8a8" />
<rect x="415.80" y="642.10" width="20.00" height="1.75" fill="#a0a870" />
<rect x="415.80" y="643.50" width="20.00" height="1.85" fill="#8aa860" />
<rect x="415.80" y="645.00" width="20.00" height="2.00" fill="#7088b8" />
<rect x="415.80" y="646.65" width="20.00" height="1.05" fill="#a070a0" />
<rect x="415.80" y="647.35" width="20.00" height="2.00" fill="#7088b8" />
<rect x="415.80" y="649.00" width="20.00" height="1.12" fill="#d06070" />
<rect x="415.80" y="649.77" width="20.00" height="1.05" fill="#c06a70" />
<rect x="415.80" y="650.48" width="20.00" height="1.90" fill="#d06070" />
<rect x="415.80" y="652.02" width="20.00" height="1.05" fill="#7a8a60" />
<rect x="415.80" y="652.73" width="20.00" height="1.12" fill="#d06070" />
<rect x="415.80" y="653.50" width="20.00" height="1.50" fill="#a070a0" />
<rect x="415.80" y="654.65" width="20.00" height="1.05" fill="#70b070" />
<rect x="415.80" y="655.35" width="20.00" height="1.50" fill="#a070a0" />
<rect x="415.80" y="656.50" width="20.00" height="1.50" fill="#b0a880" />
<rect x="415.80" y="657.65" width="20.00" height="1.05" fill="#9a9a60" />
<rect x="415.80" y="658.35" width="20.00" height="1.50" fill="#b0a880" />
<rect x="415.80" y="659.50" width="20.00" height="1.25" fill="#80a080" />
<rect x="415.80" y="660.40" width="20.00" height="1.05" fill="#e0b060" />
<rect x="415.80" y="661.10" width="20.00" height="1.25" fill="#80a080" />
<rect x="415.80" y="662.00" width="20.00" height="1.50" fill="#c09880" />
<rect x="415.80" y="663.15" width="20.00" height="1.05" fill="#8a9a60" />
<rect x="415.80" y="663.85" width="20.00" height="1.50" fill="#c09880" />
<rect x="415.80" y="665.00" width="20.00" height="1.25" fill="#8a98c0" />
<rect x="415.80" y="665.90" width="20.00" height="1.05" fill="#a8a890" />
<rect x="415.80" y="666.60" width="20.00" height="1.25" fill="#8a98c0" />
<rect x="415.80" y="667.50" width="20.00" height="1.25" fill="#70a880" />
<rect x="415.80" y="668.40" width="20.00" height="1.05" fill="#60a098" />
<rect x="415.80" y="669.10" width="20.00" height="1.25" fill="#70a880" />
<rect x="415.80" y="670.00" width="20.00" height="1.50" fill="#60a8a8" />
<rect x="415.80" y="671.15" width="20.00" height="1.05" fill="#b0a880" />
<rect x="415.80" y="671.85" width="20.00" height="1.50" fill="#60a8a8" />
<rect x="415.80" y="673.00" width="20.00" height="1.50" fill="#b0b080" />
<rect x="415.80" y="674.15" width="20.00" height="1.05" fill="#b0a070" />
<rect x="415.80" y="674.85" width="20.00" height="1.50" fill="#b0b080" />
<rect x="415.80" y="676.00" width="20.00" height="1.25" fill="#a07090" />
<rect x="415.80" y="676.90" width="20.00" height="1.05" fill="#8a9a60" />
<rect x="415.80" y="677.60" width="20.00" height="1.25" fill="#a07090" />
<rect x="415.80" y="678.50" width="20.00" height="1.75" fill="#70a8a0" />
<rect x="415.80" y="679.90" width="20.00" height="1.05" fill="#a0a870" />
<rect x="415.80" y="680.60" width="20.00" height="1.75" fill="#70a8a0" />
<rect x="415.80" y="682.00" width="20.00" height="1.50" fill="#9a8ab0" />
<rect x="415.80" y="683.15" width="20.00" height="1.05" fill="#8a6aa0" />
<rect x="415.80" y="683.85" width="20.00" height="1.50" fill="#9a8ab0" />
<rect x="415.80" y="685.00" width="20.00" height="1.40" fill="#a8a890" />
<rect x="415.80" y="686.05" width="20.00" height="1.05" fill="#60a098" />
<rect x="415.80" y="686.75" width="20.00" height="2.45" fill="#a8a890" />
<rect x="415.80" y="688.85" width="20.00" height="1.05" fill="#a8a890" />
<rect x="415.80" y="689.55" width="20.00" height="1.40" fill="#a8a890" />
<rect x="415.80" y="690.60" width="20.00" height="0.70" fill="#a8a890" />
<text x="49.20" y="213.20" font-size="3.3" fill="#ffffff" opacity="0.85">TCRA_chr1</text>
<text x="90.00" y="214.20" font-size="3.3" fill="#333333" opacity="0.85">TCRA_chr1</text>
<text x="90.00" y="233.20" font-size="3.3" fill="#ffffff" opacity="0.85">TCRA_chr1</text>
<text x="90.00" y="247.20" font-size="3.3" fill="#333333" opacity="0.85">TCRA_chr1</text>
<text x="90.00" y="259.20" font-size="3.3" fill="#333333" opacity="0.85">TCRA_chr1</text>
<text x="90.00" y="271.20" font-size="3.3" fill="#333333" opacity="0.85">TCRA_chr1</text>
<text x="90.00" y="282.20" font-size="3.3" fill="#ffffff" opacity="0.85">TCRA_chr1</text>
<text x="126.20" y="212.20" font-size="3.3" fill="#333333" opacity="0.85">Mroh1_chr</text>
<text x="202.40" y="212.20" font-size="3.3" fill="#333333" opacity="0.85">Mroh1_chr</text>
<text x="202.40" y="227.20" font-size="3.3" fill="#333333" opacity="0.85">Mroh1_chr</text>
<text x="280.00" y="212.20" font-size="3.3" fill="#333333" opacity="0.85">TCRA_chr1</text>
<text x="320.40" y="212.20" font-size="3.3" fill="#ffffff" opacity="0.85">TCRA_chr1</text>
<text x="320.40" y="223.20" font-size="3.3" fill="#333333" opacity="0.85">TCRA_chr1</text>
<text x="356.20" y="212.20" font-size="3.3" fill="#333333" opacity="0.85">TCRA_chr1</text>
<text x="396.70" y="211.20" font-size="3.3" fill="#ffffff" opacity="0.85">TCRA_chr1</text>
<text x="48.20" y="404.20" font-size="3.3" fill="#ffffff" opacity="0.85">TCRA_chr1</text>
<text x="48.20" y="474.20" font-size="3.3" fill="#333333" opacity="0.85">TCRA_chr1</text>
<text x="48.20" y="490.20" font-size="3.3" fill="#ffffff" opacity="0.85">TCRA_chr1</text>
<text x="109.20" y="404.20" font-size="3.3" fill="#ffffff" opacity="0.85">Gtf2i_chr</text>
<text x="136.70" y="404.20" font-size="3.3" fill="#ffffff" opacity="0.85">Gpy1999</text>
<text x="136.70" y="421.20" font-size="3.3" fill="#333333" opacity="0.85">Mroh8_c</text>
<text x="136.70" y="434.20" font-size="3.3" fill="#ffffff" opacity="0.85">TCRA_chr1</text>
<text x="136.70" y="447.20" font-size="3.3" fill="#333333" opacity="0.85">Sentl4_ch</text>
<text x="136.70" y="458.20" font-size="3.3" fill="#333333" opacity="0.85">Plgg_chr</text>
<text x="136.70" y="512.20" font-size="3.3" fill="#333333" opacity="0.85">Tcl120x</text>
<text x="224.20" y="404.20" font-size="3.3" fill="#333333" opacity="0.85">TCRA_chr1</text>
<text x="253.00" y="404.20" font-size="3.3" fill="#333333" opacity="0.85">TCRA_chr1</text>
<text x="253.00" y="437.20" font-size="3.3" fill="#333333" opacity="0.85">TCRA_chr1</text>
<text x="253.00" y="451.20" font-size="3.3" fill="#ffffff" opacity="0.85">TCRA_chr1</text>
<text x="253.00" y="466.20" font-size="3.3" fill="#ffffff" opacity="0.85">TCRA_chr1</text>
<text x="253.00" y="478.20" font-size="3.3" fill="#333333" opacity="0.85">TCRA_chr1</text>
<text x="253.00" y="489.20" font-size="3.3" fill="#ffffff" opacity="0.85">TCRA_chr1</text>
<text x="253.00" y="501.20" font-size="3.3" fill="#333333" opacity="0.85">TCRA_chr1</text>
<text x="253.00" y="512.20" font-size="3.3" fill="#333333" opacity="0.85">TCRA_chr1</text>
<text x="282.40" y="404.20" font-size="3.3" fill="#333333" opacity="0.85">TCRA_chr1</text>
<text x="282.40" y="463.20" font-size="3.3" fill="#333333" opacity="0.85">TCRA_chr</text>
<text x="310.40" y="404.20" font-size="3.3" fill="#ffffff" opacity="0.85">Ncp29_ch</text>
<text x="310.40" y="442.20" font-size="3.3" fill="#333333" opacity="0.85">TCRA_chr1</text>
<text x="310.40" y="459.20" font-size="3.3" fill="#ffffff" opacity="0.85">TCRA_chr</text>
<text x="310.40" y="471.20" font-size="3.3" fill="#333333" opacity="0.85">TCRA_chr</text>
<text x="340.40" y="404.20" font-size="3.3" fill="#333333" opacity="0.85">TCRA_chr1</text>
<text x="340.40" y="421.20" font-size="3.3" fill="#333333" opacity="0.85">TCRA_chr1</text>
<text x="340.40" y="432.20" font-size="3.3" fill="#ffffff" opacity="0.85">TCRA_chr1</text>
<text x="340.40" y="441.20" font-size="3.3" fill="#333333" opacity="0.85">TCRA_chr1</text>
<text x="340.40" y="452.20" font-size="3.3" fill="#333333" opacity="0.85">TCRA_chr1</text>
<text x="375.00" y="404.20" font-size="3.3" fill="#ffffff" opacity="0.85">TCRA_chr1</text>
<text x="375.00" y="464.20" font-size="3.3" fill="#ffffff" opacity="0.85">Trab1a_ch</text>
<text x="375.00" y="510.20" font-size="3.3" fill="#333333" opacity="0.85">Npl2_chrA</text>
<text x="403.70" y="404.20" font-size="3.3" fill="#333333" opacity="0.85">TCRA_chr1</text>
<text x="403.70" y="417.20" font-size="3.3" fill="#333333" opacity="0.85">TCRA_chr1</text>
<text x="403.70" y="431.20" font-size="3.3" fill="#ffffff" opacity="0.85">TCRA_chr1</text>
<text x="403.70" y="444.20" font-size="3.3" fill="#333333" opacity="0.85">TCRA_chr1</text>
<text x="433.00" y="404.20" font-size="3.3" fill="#ffffff" opacity="0.85">Gols34_c</text>
<text x="433.00" y="427.20" font-size="3.3" fill="#333333" opacity="0.85">Gramd1</text>
<text x="433.00" y="450.20" font-size="3.3" fill="#333333" opacity="0.85">Adnyl3_ch</text>
<text x="433.00" y="468.20" font-size="3.3" fill="#ffffff" opacity="0.85">Inpp4_ch</text>
<text x="461.20" y="404.20" font-size="3.3" fill="#333333" opacity="0.85">TCRA_chr1</text>
<text x="461.20" y="510.20" font-size="3.3" fill="#333333" opacity="0.85">Npsx_chr</text>
<text x="489.50" y="404.20" font-size="3.3" fill="#333333" opacity="0.85">Mab4_chr</text>
<text x="121.70" y="581.70" font-size="3.3" fill="#ffffff" opacity="0.85">Tcl1a_chr</text>
<text x="121.70" y="590.70" font-size="3.3" fill="#333333" opacity="0.85">Tcl1a_ch</text>
<text x="361.20" y="581.70" font-size="3.3" fill="#333333" opacity="0.85">Arhgef3</text>
<rect x="0.5" y="0.5" width="519" height="750" fill="none" stroke="#333" stroke-width="1"/>
</svg></body></html>
